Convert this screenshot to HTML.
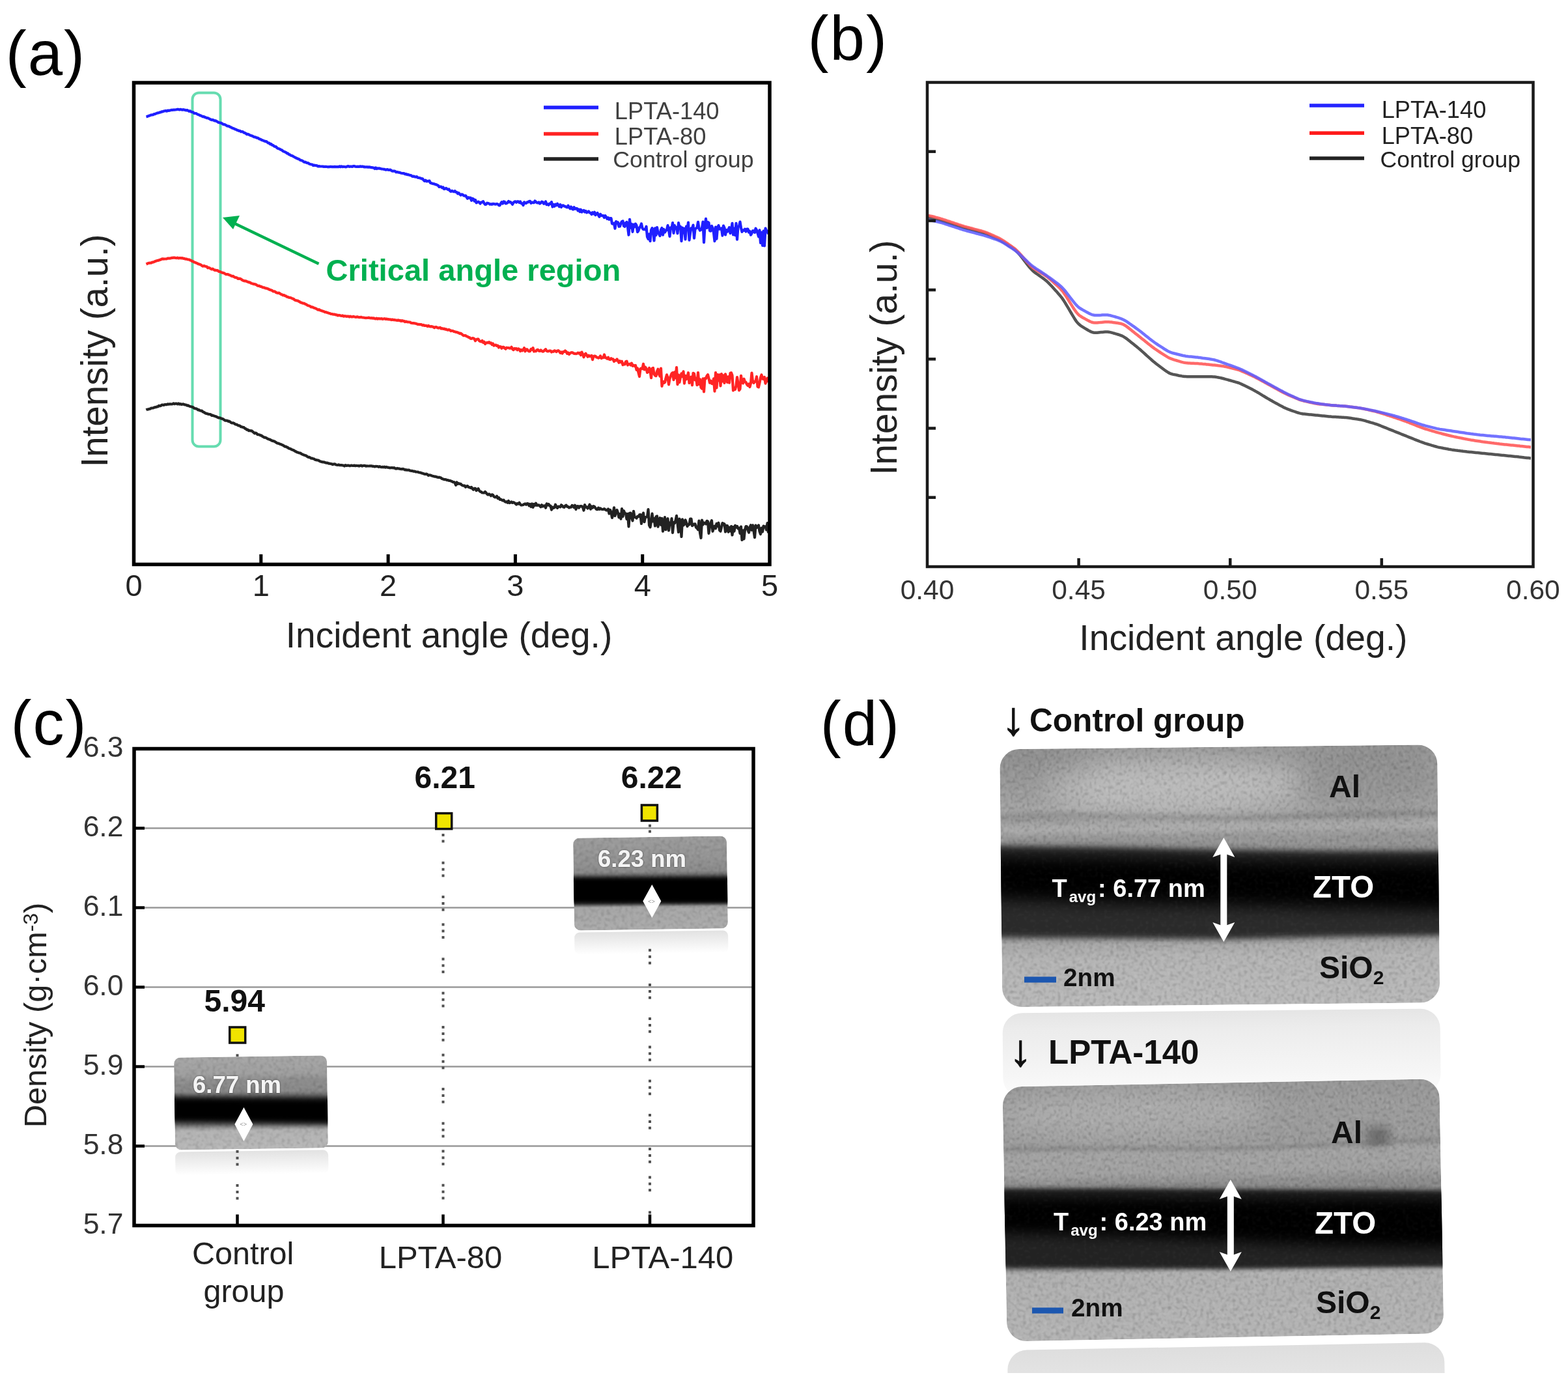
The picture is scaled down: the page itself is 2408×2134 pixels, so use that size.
<!DOCTYPE html>
<html><head><meta charset="utf-8"><title>Figure</title>
<style>
html,body{margin:0;padding:0;background:#fff;}
body{width:2408px;height:2134px;overflow:hidden;}
svg{display:block;font-family:'Liberation Sans', Arial, sans-serif;}
</style></head><body>
<svg width="2408" height="2134" viewBox="0 0 2408 2134">
<defs>
<filter id="grain" x="0" y="0" width="100%" height="100%">
  <feTurbulence type="fractalNoise" baseFrequency="0.22" numOctaves="2" seed="3"/>
  <feGaussianBlur stdDeviation="0.9"/>
  <feColorMatrix type="matrix" values="0 0 0 0 0  0 0 0 0 0  0 0 0 0 0  1.2 0 0 0 -0.55"/>
  <feComposite operator="in" in2="SourceGraphic"/>
</filter>
<filter id="grainw" x="0" y="0" width="100%" height="100%">
  <feTurbulence type="fractalNoise" baseFrequency="0.22" numOctaves="2" seed="11"/>
  <feGaussianBlur stdDeviation="0.9"/>
  <feColorMatrix type="matrix" values="0 0 0 0 1  0 0 0 0 1  0 0 0 0 1  1.2 0 0 0 -0.55"/>
  <feComposite operator="in" in2="SourceGraphic"/>
</filter>
<filter id="grainf" x="0" y="0" width="100%" height="100%">
  <feTurbulence type="fractalNoise" baseFrequency="0.28 0.2" numOctaves="2" seed="5"/>
  <feGaussianBlur stdDeviation="1.1"/>
  <feColorMatrix type="matrix" values="0 0 0 0 0  0 0 0 0 0  0 0 0 0 0  2.0 0 0 0 -0.95"/>
  <feComposite operator="in" in2="SourceGraphic"/>
</filter>
<filter id="grainfw" x="0" y="0" width="100%" height="100%">
  <feTurbulence type="fractalNoise" baseFrequency="0.28 0.2" numOctaves="2" seed="17"/>
  <feGaussianBlur stdDeviation="1.1"/>
  <feColorMatrix type="matrix" values="0 0 0 0 1  0 0 0 0 1  0 0 0 0 1  2.0 0 0 0 -0.95"/>
  <feComposite operator="in" in2="SourceGraphic"/>
</filter>
<filter id="b3" x="-20%" y="-300%" width="140%" height="700%"><feGaussianBlur stdDeviation="3"/></filter>
<filter id="b5" x="-20%" y="-300%" width="140%" height="700%"><feGaussianBlur stdDeviation="5"/></filter>
<filter id="b8" x="-20%" y="-300%" width="140%" height="700%"><feGaussianBlur stdDeviation="8"/></filter>
<filter id="b6" x="-20%" y="-300%" width="140%" height="700%"><feGaussianBlur stdDeviation="6"/></filter>
<filter id="b10" x="-20%" y="-300%" width="140%" height="700%"><feGaussianBlur stdDeviation="10"/></filter>
<filter id="b12" x="-20%" y="-300%" width="140%" height="700%"><feGaussianBlur stdDeviation="12"/></filter>
<filter id="b20" x="-100%" y="-100%" width="300%" height="300%"><feGaussianBlur stdDeviation="20"/></filter>
<filter id="tsh" x="-10%" y="-30%" width="120%" height="160%"><feDropShadow dx="0" dy="0" stdDeviation="1.2" flood-color="#000" flood-opacity="0.7"/></filter>
<linearGradient id="refl" x1="0" y1="0" x2="0" y2="1">
  <stop offset="0" stop-color="#e2e2e2"/>
  <stop offset="1" stop-color="#ffffff"/>
</linearGradient>
<linearGradient id="refl2" x1="0" y1="0" x2="0" y2="1">
  <stop offset="0" stop-color="#e5e5e5"/>
  <stop offset="0.2" stop-color="#ececec"/>
  <stop offset="0.75" stop-color="#f6f6f6"/>
  <stop offset="1" stop-color="#fcfcfc"/>
</linearGradient>
<linearGradient id="refl3" x1="0" y1="0" x2="0" y2="1">
  <stop offset="0" stop-color="#dedede"/>
  <stop offset="1" stop-color="#e9e9e9"/>
</linearGradient>
<clipPath id="cutbot"><rect x="0" y="0" width="2408" height="2108"/></clipPath>
<linearGradient id="g_ic" gradientUnits="userSpaceOnUse" x1="0" y1="1622" x2="0" y2="1764"><stop offset="0.0000" stop-color="#a6a6a6"/><stop offset="0.1831" stop-color="#a0a0a0"/><stop offset="0.2535" stop-color="#8e8e8e"/><stop offset="0.3803" stop-color="#888"/><stop offset="0.4789" stop-color="#555"/><stop offset="0.7254" stop-color="#777"/><stop offset="0.7958" stop-color="#b2b2b2"/><stop offset="1.0000" stop-color="#b8b8b8"/></linearGradient>
<clipPath id="c_ic"><rect x="268" y="1622" width="235" height="142" rx="10"/></clipPath>
<linearGradient id="g_i140" gradientUnits="userSpaceOnUse" x1="0" y1="1285" x2="0" y2="1427"><stop offset="0.0000" stop-color="#9c9c9c"/><stop offset="0.2465" stop-color="#939393"/><stop offset="0.3732" stop-color="#8a8a8a"/><stop offset="0.4577" stop-color="#444"/><stop offset="0.7042" stop-color="#444"/><stop offset="0.7535" stop-color="#a6a6a6"/><stop offset="1.0000" stop-color="#ababab"/></linearGradient>
<clipPath id="c_i140"><rect x="881" y="1285" width="236" height="142" rx="10"/></clipPath>
<linearGradient id="g_t1" gradientUnits="userSpaceOnUse" x1="0" y1="1146.75" x2="0" y2="1542.75"><stop offset="-0.0019" stop-color="#969696"/><stop offset="0.1092" stop-color="#a0a0a0"/><stop offset="0.2355" stop-color="#a4a4a4"/><stop offset="0.2759" stop-color="#999"/><stop offset="0.3163" stop-color="#a2a2a2"/><stop offset="0.3491" stop-color="#979797"/><stop offset="0.6900" stop-color="#808080"/><stop offset="0.7532" stop-color="#a6a6a6"/><stop offset="0.8163" stop-color="#b4b4b4"/><stop offset="1.0006" stop-color="#b9b9b9"/></linearGradient>
<clipPath id="c_t1"><rect x="1537.25" y="1146.75" width="672" height="396" rx="30"/></clipPath>
<linearGradient id="g_t2" gradientUnits="userSpaceOnUse" x1="0" y1="1662.4" x2="0" y2="2053.4"><stop offset="-0.0010" stop-color="#979797"/><stop offset="0.0962" stop-color="#9c9c9c"/><stop offset="0.2240" stop-color="#9b9b9b"/><stop offset="0.2701" stop-color="#a3a3a3"/><stop offset="0.3468" stop-color="#a1a1a1"/><stop offset="0.3903" stop-color="#8e8e8e"/><stop offset="0.6844" stop-color="#555"/><stop offset="0.7407" stop-color="#b0b0b0"/><stop offset="1.0015" stop-color="#b4b4b4"/></linearGradient>
<clipPath id="c_t2"><rect x="1542.9" y="1662.4" width="671" height="391" rx="30"/></clipPath>
</defs>
<rect width="2408" height="2134" fill="#fff"/>
<text x="8.7" y="115" font-size="96" text-anchor="start" font-weight="normal" fill="#000" letter-spacing="2">(a)</text>
<rect x="295.5" y="142.5" width="43" height="543" rx="10" fill="none" stroke="#66dcb0" stroke-width="4"/>
<path d="M224.5 179.2L226.0 178.9L227.5 178.3L229.0 177.6L230.5 177.2L232.0 176.5L233.5 176.3L235.0 176.2L236.5 175.1L238.0 175.1L239.5 174.4L241.0 173.8L242.5 173.3L244.0 173.1L245.5 172.4L247.0 172.3L248.5 171.3L250.0 171.3L251.5 170.5L253.0 170.4L254.5 170.0L256.0 170.7L257.5 169.6L259.0 169.9L260.5 169.6L262.0 169.3L263.5 168.8L265.0 168.8L266.5 168.7L268.0 168.6L269.5 168.5L271.0 168.2L272.5 167.9L274.0 167.9L275.5 168.5L277.0 167.9L278.5 168.2L280.0 168.6L281.5 168.2L283.0 168.6L284.5 168.9L286.0 169.4L287.5 169.1L289.0 170.0L290.5 170.8L292.0 170.4L293.5 171.7L295.0 172.0L296.5 172.3L298.0 173.8L299.5 174.0L301.0 174.0L302.5 175.0L304.0 175.8L305.5 176.2L307.0 177.1L308.5 177.5L310.0 178.3L311.5 179.2L313.0 178.9L314.5 179.9L316.0 180.3L317.5 181.1L319.0 181.2L320.5 181.9L322.0 182.6L323.5 183.5L325.0 184.1L326.5 183.8L328.0 184.5L329.5 185.5L331.0 185.2L332.5 186.2L334.0 186.9L335.5 187.9L337.0 188.3L338.5 188.6L340.0 189.1L341.5 189.9L343.0 191.0L344.5 191.0L346.0 191.7L347.5 192.5L349.0 193.5L350.5 193.6L352.0 194.0L353.5 195.0L355.0 195.5L356.5 196.6L358.0 197.1L359.5 197.6L361.0 198.4L362.5 198.7L364.0 199.8L365.5 200.1L367.0 200.9L368.5 200.9L370.0 202.2L371.5 202.0L373.0 202.4L374.5 203.6L376.0 204.0L377.5 204.9L379.0 206.2L380.5 205.8L382.0 206.5L383.5 207.4L385.0 208.0L386.5 208.4L388.0 209.0L389.5 209.9L391.0 210.4L392.5 210.5L394.0 211.6L395.5 211.6L397.0 212.4L398.5 213.4L400.0 213.7L401.5 214.9L403.0 215.3L404.5 215.9L406.0 216.4L407.5 217.2L409.0 217.0L410.5 218.4L412.0 219.6L413.5 219.5L415.0 221.3L416.5 221.2L418.0 222.8L419.5 223.1L421.0 224.5L422.5 225.1L424.0 225.4L425.5 227.1L427.0 228.0L428.5 228.3L430.0 229.1L431.5 230.0L433.0 230.5L434.5 232.0L436.0 232.6L437.5 233.3L439.0 233.9L440.5 235.3L442.0 235.4L443.5 237.0L445.0 237.4L446.5 238.6L448.0 239.1L449.5 239.6L451.0 240.5L452.5 241.3L454.0 242.2L455.5 242.8L457.0 243.6L458.5 244.0L460.0 244.9L461.5 246.0L463.0 246.3L464.5 246.9L466.0 248.0L467.5 249.0L469.0 248.7L470.5 249.7L472.0 250.2L473.5 250.4L475.0 251.7L476.5 252.0L478.0 252.5L479.5 252.5L481.0 254.1L482.5 253.6L484.0 253.9L485.5 254.1L487.0 254.4L488.5 255.4L490.0 255.1L491.5 255.5L493.0 255.5L494.5 255.5L496.0 255.6L497.5 256.0L499.0 255.8L500.5 255.9L502.0 256.0L503.5 256.3L505.0 256.2L506.5 256.1L508.0 255.8L509.5 256.2L511.0 256.2L512.5 256.2L514.0 255.9L515.5 256.1L517.0 256.1L518.5 256.1L520.0 256.1L521.5 255.3L523.0 256.3L524.5 255.4L526.0 256.1L527.5 255.9L529.0 256.0L530.5 256.3L532.0 256.2L533.5 255.4L535.0 255.2L536.5 255.9L538.0 255.5L539.5 255.7L541.0 255.9L542.5 255.1L544.0 255.0L545.5 255.7L547.0 255.8L548.5 255.8L550.0 255.7L551.5 256.0L553.0 255.3L554.5 255.8L556.0 255.7L557.5 255.7L559.0 256.3L560.5 256.2L562.0 256.5L563.5 256.2L565.0 256.7L566.5 256.4L568.0 256.6L569.5 257.1L571.0 257.0L572.5 257.5L574.0 257.7L575.5 259.0L577.0 257.5L578.5 259.2L580.0 258.3L581.5 258.6L583.0 258.4L584.5 258.9L586.0 259.5L587.5 259.5L589.0 259.8L590.5 259.9L592.0 260.7L593.5 260.6L595.0 260.1L596.5 260.9L598.0 260.8L599.5 260.7L601.0 261.8L602.5 262.7L604.0 262.6L605.5 262.6L607.0 263.0L608.5 264.3L610.0 264.0L611.5 264.6L613.0 264.7L614.5 265.1L616.0 265.7L617.5 266.0L619.0 266.2L620.5 266.2L622.0 267.3L623.5 267.1L625.0 268.1L626.5 267.8L628.0 268.5L629.5 269.0L631.0 269.0L632.5 270.4L634.0 271.0L635.5 270.6L637.0 271.4L638.5 271.7L640.0 271.2L641.5 272.6L643.0 273.0L644.5 273.2L646.0 273.6L647.5 274.4L649.0 274.4L650.5 276.5L652.0 277.9L653.5 276.7L655.0 278.5L656.5 278.1L658.0 278.1L659.5 277.6L661.0 281.0L662.5 281.2L664.0 281.8L665.5 282.2L667.0 282.4L668.5 283.1L670.0 283.4L671.5 284.1L673.0 284.9L674.5 286.9L676.0 286.7L677.5 286.7L679.0 288.4L680.5 287.5L682.0 290.1L683.5 289.7L685.0 288.8L686.5 290.1L688.0 291.1L689.5 290.5L691.0 292.9L692.5 293.9L694.0 292.9L695.5 293.8L697.0 294.3L698.5 293.2L700.0 295.0L701.5 295.0L703.0 297.2L704.5 296.2L706.0 298.1L707.5 299.6L709.0 298.4L710.5 298.7L712.0 300.2L713.5 300.6L715.0 300.3L716.5 302.5L718.0 304.8L719.5 303.1L721.0 303.9L722.5 303.7L724.0 307.8L725.5 304.8L727.0 305.5L728.5 308.7L730.0 306.9L731.5 311.3L733.0 310.6L734.5 309.7L736.0 310.5L737.5 312.5L739.0 310.6L740.5 310.5L742.0 309.2L743.5 312.0L745.0 313.9L746.5 313.6L748.0 311.7L749.5 312.1L751.0 312.6L752.5 313.7L754.0 313.2L755.5 313.8L757.0 312.8L758.5 313.2L760.0 313.4L761.5 313.6L763.0 313.1L764.5 313.6L766.0 315.1L767.5 315.3L769.0 312.5L770.5 310.2L772.0 312.5L773.5 309.5L775.0 309.9L776.5 312.5L778.0 312.2L779.5 311.0L781.0 309.0L782.5 310.5L784.0 310.1L785.5 311.7L787.0 313.7L788.5 311.1L790.0 309.8L791.5 309.3L793.0 310.8L794.5 309.4L796.0 309.4L797.5 311.0L799.0 309.4L800.5 312.4L802.0 312.3L803.5 315.1L805.0 310.3L806.5 311.6L808.0 311.9L809.5 310.4L811.0 310.4L812.5 309.1L814.0 308.9L815.5 311.9L817.0 310.6L818.5 311.1L820.0 311.2L821.5 308.5L823.0 309.8L824.5 311.1L826.0 311.5L827.5 310.5L829.0 312.5L830.5 311.5L832.0 309.7L833.5 310.2L835.0 312.8L836.5 312.5L838.0 309.4L839.5 314.2L841.0 313.4L842.5 314.7L844.0 312.5L845.5 312.9L847.0 310.1L848.5 317.5L850.0 313.9L851.5 316.7L853.0 313.7L854.5 315.2L856.0 312.8L857.5 314.9L859.0 317.3L860.5 314.2L862.0 318.0L863.5 315.6L865.0 315.4L866.5 316.5L868.0 316.9L869.5 317.8L871.0 318.4L872.5 315.7L874.0 318.4L875.5 320.3L877.0 317.5L878.5 320.5L880.0 321.5L881.5 318.1L883.0 320.8L884.5 320.2L886.0 320.0L887.5 323.3L889.0 321.4L890.5 325.0L892.0 321.8L893.5 325.6L895.0 323.4L896.5 322.9L898.0 325.5L899.5 323.9L901.0 326.3L902.5 325.6L904.0 324.4L905.5 326.4L907.0 327.0L908.5 329.0L910.0 326.3L911.5 328.2L913.0 325.8L914.5 330.2L916.0 327.8L917.5 327.0L919.0 330.4L920.5 332.8L922.0 328.8L923.5 330.9L925.0 331.1L926.5 331.0L928.0 334.1L929.5 331.1L931.0 333.2L932.5 336.0L934.0 334.2L935.5 336.9L937.0 335.0L938.5 335.1L940.0 343.4L941.5 343.7L943.0 342.6L944.5 350.8L946.0 340.0L947.5 341.2L949.0 341.4L950.5 347.8L952.0 347.5L953.5 342.7L955.0 340.1L956.5 339.5L958.0 347.0L959.5 347.8L961.0 342.1L962.5 341.0L964.0 348.6L965.5 360.7L967.0 336.8L968.5 349.7L970.0 344.0L971.5 355.8L973.0 344.7L974.5 348.2L976.0 343.7L977.5 346.1L979.0 356.1L980.5 354.2L982.0 349.4L983.5 347.7L985.0 343.5L986.5 350.2L988.0 352.1L989.5 352.1L991.0 352.3L992.5 347.8L994.0 363.7L995.5 366.8L997.0 359.5L998.5 370.2L1000.0 353.1L1001.5 350.2L1003.0 353.6L1004.5 369.5L1006.0 350.4L1007.5 361.1L1009.0 349.0L1010.5 356.8L1012.0 359.1L1013.5 362.1L1015.0 352.8L1016.5 350.0L1018.0 360.7L1019.5 352.1L1021.0 356.6L1022.5 354.1L1024.0 352.8L1025.5 346.1L1027.0 352.9L1028.5 363.0L1030.0 349.3L1031.5 350.7L1033.0 342.0L1034.5 357.9L1036.0 346.1L1037.5 350.7L1039.0 349.3L1040.5 358.3L1042.0 342.2L1043.5 349.6L1045.0 348.1L1046.5 370.2L1048.0 349.7L1049.5 357.4L1051.0 350.8L1052.5 367.5L1054.0 347.7L1055.5 352.3L1057.0 341.5L1058.5 368.6L1060.0 357.7L1061.5 350.4L1063.0 350.8L1064.5 345.6L1066.0 365.7L1067.5 351.6L1069.0 350.5L1070.5 349.3L1072.0 340.9L1073.5 350.7L1075.0 353.7L1076.5 352.8L1078.0 349.8L1079.5 340.5L1081.0 372.2L1082.5 347.3L1084.0 335.9L1085.5 349.9L1087.0 341.1L1088.5 342.1L1090.0 354.2L1091.5 354.7L1093.0 346.9L1094.5 350.1L1096.0 357.3L1097.5 370.2L1099.0 348.7L1100.5 366.7L1102.0 348.9L1103.5 346.2L1105.0 351.7L1106.5 351.7L1108.0 350.4L1109.5 361.6L1111.0 346.5L1112.5 349.9L1114.0 360.5L1115.5 353.1L1117.0 355.6L1118.5 352.4L1120.0 349.1L1121.5 358.2L1123.0 353.3L1124.5 342.9L1126.0 360.3L1127.5 350.7L1129.0 361.1L1130.5 342.9L1132.0 367.7L1133.5 348.4L1135.0 347.2L1136.5 340.6L1138.0 349.9L1139.5 355.9L1141.0 353.5L1142.5 353.8L1144.0 351.7L1145.5 355.5L1147.0 351.6L1148.5 351.5L1150.0 356.7L1151.5 355.1L1153.0 360.7L1154.5 358.1L1156.0 354.3L1157.5 354.4L1159.0 356.9L1160.5 350.7L1162.0 353.3L1163.5 358.0L1165.0 363.3L1166.5 353.3L1168.0 372.9L1169.5 356.8L1171.0 376.8L1172.5 354.7L1174.0 377.4L1175.5 350.5L1177.0 354.4L1178.5 354.5L1180.0 359.3" fill="none" stroke="#1f1fff" stroke-width="4.2" stroke-linejoin="round"/>
<path d="M224.5 405.5L226.0 404.8L227.5 404.1L229.0 403.8L230.5 403.7L232.0 403.7L233.5 402.7L235.0 402.6L236.5 402.0L238.0 401.3L239.5 400.7L241.0 400.2L242.5 399.9L244.0 399.6L245.5 398.9L247.0 398.6L248.5 397.6L250.0 397.4L251.5 397.6L253.0 397.5L254.5 397.5L256.0 397.3L257.5 396.6L259.0 396.5L260.5 396.7L262.0 396.5L263.5 395.8L265.0 395.9L266.5 395.6L268.0 395.6L269.5 396.0L271.0 396.2L272.5 395.7L274.0 396.5L275.5 396.1L277.0 396.0L278.5 396.4L280.0 396.2L281.5 396.8L283.0 396.9L284.5 397.7L286.0 397.5L287.5 398.2L289.0 398.4L290.5 398.5L292.0 399.5L293.5 399.8L295.0 401.0L296.5 401.3L298.0 402.5L299.5 402.8L301.0 403.5L302.5 404.1L304.0 405.1L305.5 405.4L307.0 406.1L308.5 406.6L310.0 407.7L311.5 408.7L313.0 408.1L314.5 408.6L316.0 409.0L317.5 409.3L319.0 411.3L320.5 410.9L322.0 411.5L323.5 412.5L325.0 413.3L326.5 412.7L328.0 413.8L329.5 414.8L331.0 414.7L332.5 415.2L334.0 415.1L335.5 416.6L337.0 416.9L338.5 417.3L340.0 418.2L341.5 418.6L343.0 419.0L344.5 419.5L346.0 420.6L347.5 421.2L349.0 421.1L350.5 421.4L352.0 422.2L353.5 422.5L355.0 423.5L356.5 424.1L358.0 423.9L359.5 425.1L361.0 425.9L362.5 426.1L364.0 426.5L365.5 427.8L367.0 427.7L368.5 427.8L370.0 428.4L371.5 429.6L373.0 430.5L374.5 431.1L376.0 431.4L377.5 431.4L379.0 432.2L380.5 432.6L382.0 433.4L383.5 433.4L385.0 434.5L386.5 435.2L388.0 435.5L389.5 436.2L391.0 436.2L392.5 436.6L394.0 437.4L395.5 438.4L397.0 438.9L398.5 438.9L400.0 440.0L401.5 440.0L403.0 441.1L404.5 441.3L406.0 441.6L407.5 442.5L409.0 442.6L410.5 443.1L412.0 443.5L413.5 444.6L415.0 445.1L416.5 445.6L418.0 446.1L419.5 447.3L421.0 447.3L422.5 447.8L424.0 449.0L425.5 449.7L427.0 449.9L428.5 449.7L430.0 450.8L431.5 451.8L433.0 452.2L434.5 453.3L436.0 453.0L437.5 454.2L439.0 454.4L440.5 455.6L442.0 455.8L443.5 456.7L445.0 456.8L446.5 457.2L448.0 457.9L449.5 458.6L451.0 459.1L452.5 460.5L454.0 461.1L455.5 461.4L457.0 461.6L458.5 462.6L460.0 463.0L461.5 464.4L463.0 464.6L464.5 465.4L466.0 465.7L467.5 465.9L469.0 466.9L470.5 467.5L472.0 468.6L473.5 469.2L475.0 469.5L476.5 470.3L478.0 471.5L479.5 471.3L481.0 472.0L482.5 472.8L484.0 473.2L485.5 473.9L487.0 474.8L488.5 475.7L490.0 475.1L491.5 476.2L493.0 476.8L494.5 477.4L496.0 477.8L497.5 478.2L499.0 479.2L500.5 479.2L502.0 479.8L503.5 480.3L505.0 480.8L506.5 481.1L508.0 481.9L509.5 482.0L511.0 482.4L512.5 482.7L514.0 482.7L515.5 483.3L517.0 483.3L518.5 484.4L520.0 483.9L521.5 484.0L523.0 484.7L524.5 484.9L526.0 484.4L527.5 485.6L529.0 485.2L530.5 485.3L532.0 485.8L533.5 485.6L535.0 485.5L536.5 486.5L538.0 485.6L539.5 486.3L541.0 486.4L542.5 485.9L544.0 486.3L545.5 486.6L547.0 486.8L548.5 486.4L550.0 486.8L551.5 487.2L553.0 487.1L554.5 486.8L556.0 487.4L557.5 487.5L559.0 487.7L560.5 488.0L562.0 488.1L563.5 488.0L565.0 487.9L566.5 487.7L568.0 488.1L569.5 488.3L571.0 488.2L572.5 488.7L574.0 488.3L575.5 489.1L577.0 489.4L578.5 488.6L580.0 489.7L581.5 489.0L583.0 489.4L584.5 489.3L586.0 489.2L587.5 489.9L589.0 489.5L590.5 489.2L592.0 489.9L593.5 489.6L595.0 490.1L596.5 490.1L598.0 490.5L599.5 490.4L601.0 491.1L602.5 490.5L604.0 491.1L605.5 491.0L607.0 491.4L608.5 491.5L610.0 492.0L611.5 491.3L613.0 492.2L614.5 491.9L616.0 493.0L617.5 492.2L619.0 492.8L620.5 492.8L622.0 494.2L623.5 493.5L625.0 494.2L626.5 494.3L628.0 494.5L629.5 494.5L631.0 495.6L632.5 496.0L634.0 496.2L635.5 496.1L637.0 496.5L638.5 496.7L640.0 497.2L641.5 498.0L643.0 497.9L644.5 498.1L646.0 498.1L647.5 498.4L649.0 499.4L650.5 498.9L652.0 499.9L653.5 499.8L655.0 500.0L656.5 501.0L658.0 499.9L659.5 501.0L661.0 501.4L662.5 501.1L664.0 501.5L665.5 502.0L667.0 503.2L668.5 502.1L670.0 502.1L671.5 503.1L673.0 503.6L674.5 503.2L676.0 502.9L677.5 504.6L679.0 504.1L680.5 504.8L682.0 504.6L683.5 505.6L685.0 505.3L686.5 506.3L688.0 506.7L689.5 506.0L691.0 506.8L692.5 508.1L694.0 507.8L695.5 508.0L697.0 508.9L698.5 509.3L700.0 509.8L701.5 509.9L703.0 510.6L704.5 511.0L706.0 512.2L707.5 511.7L709.0 512.7L710.5 514.1L712.0 515.2L713.5 515.0L715.0 515.1L716.5 516.3L718.0 516.7L719.5 517.9L721.0 518.0L722.5 519.6L724.0 519.9L725.5 519.2L727.0 519.4L728.5 520.3L730.0 523.2L731.5 521.3L733.0 520.5L734.5 520.7L736.0 523.2L737.5 524.1L739.0 524.6L740.5 523.1L742.0 525.8L743.5 524.7L745.0 528.0L746.5 526.5L748.0 525.8L749.5 526.4L751.0 525.3L752.5 526.9L754.0 526.4L755.5 529.1L757.0 527.6L758.5 530.5L760.0 529.8L761.5 529.6L763.0 531.0L764.5 530.6L766.0 533.5L767.5 532.1L769.0 532.3L770.5 534.8L772.0 532.9L773.5 532.8L775.0 534.5L776.5 535.7L778.0 533.7L779.5 534.0L781.0 534.0L782.5 534.7L784.0 534.6L785.5 532.8L787.0 535.8L788.5 537.1L790.0 535.0L791.5 535.6L793.0 535.1L794.5 537.2L796.0 535.4L797.5 536.3L799.0 539.1L800.5 537.0L802.0 538.3L803.5 537.0L805.0 534.2L806.5 539.3L808.0 536.3L809.5 536.3L811.0 538.5L812.5 539.3L814.0 539.2L815.5 535.9L817.0 536.7L818.5 534.1L820.0 539.5L821.5 539.0L823.0 539.2L824.5 537.2L826.0 536.9L827.5 538.6L829.0 538.9L830.5 537.5L832.0 538.9L833.5 539.7L835.0 539.2L836.5 537.5L838.0 536.2L839.5 538.8L841.0 539.4L842.5 538.9L844.0 538.7L845.5 538.5L847.0 540.5L848.5 539.5L850.0 539.8L851.5 538.3L853.0 538.9L854.5 540.1L856.0 538.5L857.5 538.2L859.0 539.6L860.5 541.9L862.0 540.5L863.5 542.5L865.0 540.2L866.5 540.0L868.0 538.5L869.5 539.8L871.0 542.9L872.5 541.4L874.0 544.0L875.5 542.2L877.0 541.3L878.5 541.2L880.0 541.8L881.5 542.9L883.0 542.8L884.5 543.1L886.0 542.8L887.5 541.6L889.0 542.6L890.5 541.8L892.0 545.2L893.5 540.6L895.0 543.8L896.5 548.3L898.0 544.2L899.5 542.7L901.0 545.3L902.5 547.7L904.0 545.6L905.5 547.1L907.0 546.5L908.5 546.0L910.0 552.1L911.5 547.2L913.0 546.5L914.5 546.8L916.0 548.5L917.5 548.8L919.0 549.6L920.5 548.8L922.0 546.4L923.5 550.0L925.0 548.8L926.5 549.1L928.0 544.4L929.5 549.2L931.0 549.3L932.5 550.8L934.0 548.6L935.5 551.6L937.0 552.1L938.5 550.2L940.0 551.4L941.5 551.4L943.0 554.9L944.5 553.0L946.0 553.4L947.5 551.4L949.0 554.0L950.5 556.7L952.0 554.3L953.5 556.1L955.0 554.7L956.5 560.2L958.0 558.7L959.5 559.4L961.0 555.2L962.5 554.6L964.0 560.5L965.5 559.0L967.0 558.7L968.5 560.4L970.0 557.6L971.5 561.8L973.0 560.7L974.5 562.0L976.0 560.9L977.5 567.9L979.0 565.4L980.5 572.3L982.0 578.0L983.5 566.1L985.0 565.3L986.5 566.1L988.0 558.7L989.5 567.5L991.0 563.6L992.5 565.9L994.0 571.9L995.5 571.0L997.0 564.9L998.5 569.4L1000.0 580.2L1001.5 565.7L1003.0 565.0L1004.5 573.9L1006.0 576.6L1007.5 577.2L1009.0 570.0L1010.5 566.7L1012.0 574.3L1013.5 577.5L1015.0 565.6L1016.5 592.9L1018.0 585.8L1019.5 587.9L1021.0 586.9L1022.5 580.8L1024.0 575.3L1025.5 579.9L1027.0 590.3L1028.5 581.5L1030.0 577.3L1031.5 573.4L1033.0 572.3L1034.5 583.2L1036.0 571.3L1037.5 580.2L1039.0 564.0L1040.5 590.2L1042.0 575.5L1043.5 586.8L1045.0 578.9L1046.5 573.5L1048.0 578.2L1049.5 570.4L1051.0 588.6L1052.5 576.8L1054.0 582.3L1055.5 578.7L1057.0 572.2L1058.5 588.0L1060.0 580.5L1061.5 578.6L1063.0 591.3L1064.5 572.8L1066.0 573.8L1067.5 583.3L1069.0 580.8L1070.5 591.2L1072.0 572.0L1073.5 590.0L1075.0 582.2L1076.5 594.9L1078.0 596.6L1079.5 581.4L1081.0 601.4L1082.5 580.8L1084.0 581.3L1085.5 577.2L1087.0 575.1L1088.5 581.1L1090.0 587.7L1091.5 584.7L1093.0 588.9L1094.5 589.3L1096.0 581.4L1097.5 600.6L1099.0 572.0L1100.5 595.4L1102.0 575.1L1103.5 584.2L1105.0 575.3L1106.5 592.5L1108.0 574.2L1109.5 585.5L1111.0 576.3L1112.5 587.9L1114.0 574.3L1115.5 579.6L1117.0 586.9L1118.5 578.4L1120.0 587.7L1121.5 572.7L1123.0 572.3L1124.5 576.2L1126.0 599.5L1127.5 595.6L1129.0 597.7L1130.5 592.0L1132.0 579.0L1133.5 589.1L1135.0 599.3L1136.5 597.2L1138.0 576.9L1139.5 587.3L1141.0 588.4L1142.5 581.7L1144.0 586.2L1145.5 586.8L1147.0 590.2L1148.5 592.0L1150.0 589.4L1151.5 594.1L1153.0 588.2L1154.5 572.5L1156.0 585.4L1157.5 588.0L1159.0 585.8L1160.5 585.4L1162.0 578.2L1163.5 593.6L1165.0 594.4L1166.5 587.9L1168.0 579.7L1169.5 575.5L1171.0 581.6L1172.5 582.1L1174.0 578.9L1175.5 588.7L1177.0 584.8L1178.5 580.6L1180.0 587.0" fill="none" stroke="#ff2424" stroke-width="4.2" stroke-linejoin="round"/>
<path d="M224.5 629.3L226.0 628.5L227.5 628.5L229.0 627.8L230.5 627.7L232.0 626.7L233.5 626.5L235.0 626.5L236.5 625.7L238.0 625.2L239.5 625.1L241.0 624.4L242.5 624.4L244.0 622.8L245.5 623.3L247.0 622.9L248.5 621.6L250.0 621.6L251.5 622.0L253.0 621.1L254.5 621.0L256.0 621.2L257.5 620.4L259.0 620.7L260.5 620.3L262.0 620.4L263.5 620.5L265.0 620.2L266.5 619.3L268.0 620.2L269.5 619.6L271.0 619.7L272.5 620.4L274.0 619.5L275.5 620.7L277.0 620.0L278.5 620.9L280.0 620.6L281.5 620.4L283.0 621.1L284.5 621.5L286.0 621.7L287.5 622.6L289.0 622.4L290.5 623.4L292.0 624.0L293.5 624.3L295.0 624.7L296.5 625.3L298.0 626.5L299.5 627.2L301.0 627.3L302.5 627.9L304.0 629.3L305.5 629.1L307.0 630.3L308.5 630.6L310.0 630.6L311.5 632.2L313.0 632.7L314.5 633.8L316.0 634.6L317.5 635.0L319.0 635.4L320.5 635.9L322.0 636.0L323.5 636.4L325.0 637.8L326.5 637.7L328.0 638.3L329.5 638.8L331.0 639.2L332.5 639.8L334.0 640.7L335.5 641.4L337.0 641.4L338.5 641.7L340.0 642.7L341.5 642.8L343.0 643.6L344.5 644.8L346.0 645.7L347.5 645.6L349.0 645.8L350.5 646.9L352.0 646.6L353.5 647.7L355.0 649.0L356.5 649.4L358.0 649.3L359.5 649.9L361.0 651.3L362.5 651.6L364.0 652.1L365.5 653.1L367.0 653.4L368.5 653.7L370.0 655.2L371.5 655.4L373.0 656.0L374.5 656.1L376.0 657.7L377.5 658.2L379.0 659.7L380.5 659.6L382.0 661.2L383.5 660.9L385.0 661.4L386.5 661.3L388.0 662.7L389.5 663.9L391.0 665.3L392.5 664.6L394.0 665.4L395.5 667.2L397.0 667.2L398.5 667.5L400.0 668.4L401.5 668.6L403.0 670.0L404.5 670.7L406.0 671.6L407.5 671.7L409.0 672.4L410.5 673.3L412.0 674.1L413.5 674.6L415.0 674.9L416.5 675.9L418.0 676.8L419.5 676.9L421.0 677.4L422.5 678.3L424.0 679.3L425.5 680.3L427.0 680.6L428.5 681.0L430.0 681.8L431.5 682.2L433.0 683.0L434.5 683.5L436.0 684.5L437.5 685.6L439.0 685.6L440.5 686.6L442.0 687.1L443.5 688.5L445.0 688.7L446.5 689.2L448.0 690.3L449.5 690.7L451.0 691.2L452.5 692.5L454.0 692.9L455.5 693.9L457.0 694.4L458.5 695.0L460.0 695.5L461.5 695.7L463.0 697.0L464.5 697.5L466.0 698.3L467.5 698.8L469.0 699.2L470.5 699.8L472.0 701.0L473.5 701.8L475.0 701.9L476.5 702.8L478.0 703.7L479.5 703.5L481.0 704.3L482.5 704.6L484.0 705.8L485.5 706.1L487.0 706.4L488.5 706.5L490.0 707.4L491.5 708.3L493.0 708.7L494.5 709.1L496.0 709.5L497.5 709.3L499.0 710.1L500.5 710.6L502.0 710.6L503.5 710.9L505.0 711.6L506.5 711.7L508.0 712.0L509.5 712.4L511.0 713.2L512.5 712.5L514.0 712.3L515.5 713.3L517.0 713.7L518.5 714.0L520.0 713.4L521.5 714.2L523.0 714.2L524.5 714.1L526.0 714.4L527.5 714.6L529.0 715.5L530.5 714.2L532.0 715.0L533.5 714.6L535.0 714.6L536.5 715.1L538.0 715.1L539.5 714.5L541.0 714.8L542.5 715.0L544.0 714.5L545.5 715.2L547.0 714.9L548.5 715.0L550.0 715.1L551.5 715.6L553.0 715.1L554.5 714.5L556.0 715.6L557.5 715.0L559.0 714.8L560.5 714.8L562.0 715.6L563.5 715.4L565.0 715.5L566.5 715.5L568.0 715.4L569.5 715.3L571.0 715.4L572.5 715.9L574.0 715.9L575.5 716.5L577.0 715.8L578.5 716.0L580.0 716.1L581.5 716.8L583.0 716.1L584.5 716.9L586.0 717.2L587.5 716.9L589.0 717.3L590.5 716.7L592.0 717.6L593.5 716.9L595.0 717.6L596.5 717.7L598.0 718.2L599.5 718.3L601.0 718.0L602.5 718.1L604.0 718.3L605.5 718.2L607.0 719.3L608.5 719.6L610.0 718.9L611.5 719.5L613.0 719.4L614.5 720.0L616.0 720.1L617.5 720.1L619.0 719.9L620.5 720.5L622.0 721.3L623.5 721.1L625.0 721.7L626.5 721.6L628.0 721.5L629.5 722.5L631.0 722.8L632.5 722.8L634.0 723.2L635.5 723.7L637.0 723.6L638.5 724.4L640.0 724.5L641.5 724.5L643.0 725.2L644.5 725.5L646.0 725.7L647.5 726.5L649.0 726.6L650.5 727.3L652.0 727.8L653.5 727.9L655.0 727.7L656.5 728.4L658.0 729.9L659.5 729.3L661.0 729.5L662.5 730.1L664.0 730.7L665.5 731.0L667.0 731.6L668.5 731.5L670.0 732.1L671.5 732.5L673.0 733.0L674.5 732.7L676.0 733.2L677.5 733.8L679.0 735.1L680.5 735.6L682.0 736.1L683.5 736.2L685.0 736.3L686.5 737.2L688.0 737.2L689.5 737.9L691.0 737.9L692.5 738.5L694.0 739.0L695.5 740.1L697.0 740.0L698.5 741.2L700.0 744.8L701.5 740.4L703.0 743.0L704.5 742.0L706.0 742.8L707.5 742.9L709.0 744.6L710.5 745.2L712.0 745.7L713.5 745.6L715.0 747.8L716.5 746.5L718.0 746.1L719.5 748.0L721.0 748.0L722.5 749.0L724.0 747.9L725.5 750.3L727.0 751.8L728.5 749.9L730.0 749.9L731.5 753.1L733.0 752.1L734.5 750.1L736.0 753.3L737.5 754.7L739.0 755.1L740.5 756.5L742.0 756.5L743.5 756.6L745.0 755.1L746.5 756.6L748.0 758.5L749.5 759.6L751.0 758.5L752.5 759.5L754.0 761.2L755.5 759.3L757.0 759.9L758.5 762.3L760.0 763.4L761.5 763.2L763.0 761.8L764.5 765.0L766.0 764.0L767.5 766.8L769.0 766.6L770.5 767.5L772.0 768.5L773.5 767.7L775.0 769.8L776.5 770.7L778.0 770.2L779.5 771.7L781.0 769.0L782.5 772.1L784.0 771.6L785.5 770.5L787.0 771.9L788.5 771.2L790.0 771.9L791.5 772.9L793.0 774.4L794.5 772.9L796.0 773.6L797.5 771.8L799.0 774.4L800.5 775.5L802.0 775.3L803.5 775.0L805.0 773.9L806.5 773.4L808.0 774.7L809.5 773.2L811.0 773.4L812.5 776.4L814.0 774.0L815.5 778.1L817.0 773.5L818.5 778.8L820.0 774.0L821.5 775.9L823.0 772.7L824.5 775.9L826.0 775.7L827.5 775.3L829.0 776.8L830.5 778.3L832.0 775.3L833.5 777.5L835.0 776.5L836.5 776.4L838.0 779.7L839.5 773.4L841.0 775.6L842.5 774.0L844.0 776.3L845.5 776.5L847.0 782.6L848.5 778.7L850.0 779.8L851.5 779.1L853.0 774.7L854.5 778.0L856.0 779.9L857.5 777.7L859.0 777.8L860.5 778.4L862.0 775.3L863.5 776.5L865.0 778.4L866.5 778.8L868.0 776.5L869.5 775.7L871.0 777.9L872.5 777.9L874.0 779.4L875.5 778.5L877.0 778.6L878.5 776.0L880.0 776.7L881.5 779.0L883.0 775.8L884.5 781.9L886.0 777.4L887.5 777.2L889.0 779.7L890.5 777.4L892.0 777.1L893.5 777.4L895.0 778.7L896.5 783.5L898.0 775.0L899.5 778.7L901.0 778.4L902.5 780.6L904.0 778.4L905.5 774.7L907.0 781.6L908.5 777.4L910.0 779.5L911.5 777.2L913.0 777.9L914.5 780.2L916.0 781.9L917.5 782.1L919.0 779.6L920.5 781.9L922.0 780.5L923.5 781.7L925.0 782.0L926.5 781.9L928.0 781.1L929.5 782.3L931.0 783.4L932.5 783.4L934.0 781.4L935.5 788.5L937.0 782.9L938.5 786.6L940.0 795.0L941.5 788.7L943.0 779.3L944.5 792.0L946.0 785.7L947.5 783.0L949.0 787.4L950.5 794.3L952.0 789.2L953.5 796.6L955.0 781.1L956.5 792.9L958.0 784.2L959.5 788.5L961.0 788.4L962.5 797.0L964.0 788.9L965.5 808.3L967.0 787.9L968.5 787.7L970.0 794.4L971.5 799.4L973.0 784.9L974.5 793.8L976.0 794.0L977.5 795.6L979.0 792.8L980.5 793.2L982.0 790.4L983.5 790.2L985.0 803.9L986.5 791.8L988.0 787.6L989.5 801.2L991.0 794.1L992.5 793.8L994.0 793.3L995.5 782.1L997.0 806.4L998.5 809.4L1000.0 800.2L1001.5 788.7L1003.0 800.5L1004.5 796.1L1006.0 807.5L1007.5 793.1L1009.0 792.5L1010.5 808.6L1012.0 799.0L1013.5 795.2L1015.0 806.0L1016.5 795.9L1018.0 815.7L1019.5 810.5L1021.0 794.1L1022.5 813.2L1024.0 798.6L1025.5 796.3L1027.0 814.5L1028.5 802.5L1030.0 805.2L1031.5 796.0L1033.0 817.8L1034.5 802.2L1036.0 803.3L1037.5 799.0L1039.0 791.9L1040.5 803.4L1042.0 816.9L1043.5 796.7L1045.0 801.7L1046.5 824.0L1048.0 797.3L1049.5 806.5L1051.0 805.0L1052.5 798.3L1054.0 802.2L1055.5 808.0L1057.0 805.0L1058.5 805.3L1060.0 796.7L1061.5 796.6L1063.0 807.1L1064.5 805.8L1066.0 804.5L1067.5 804.3L1069.0 809.6L1070.5 810.9L1072.0 813.2L1073.5 799.6L1075.0 817.9L1076.5 826.0L1078.0 798.5L1079.5 805.5L1081.0 802.7L1082.5 802.8L1084.0 804.4L1085.5 799.8L1087.0 800.4L1088.5 818.8L1090.0 808.7L1091.5 802.8L1093.0 799.1L1094.5 815.7L1096.0 810.7L1097.5 807.6L1099.0 811.2L1100.5 804.0L1102.0 807.8L1103.5 802.7L1105.0 814.0L1106.5 815.6L1108.0 809.3L1109.5 803.1L1111.0 803.8L1112.5 804.5L1114.0 816.5L1115.5 807.1L1117.0 807.2L1118.5 816.7L1120.0 809.7L1121.5 815.3L1123.0 808.1L1124.5 821.4L1126.0 809.1L1127.5 815.6L1129.0 806.9L1130.5 809.6L1132.0 807.9L1133.5 811.3L1135.0 810.7L1136.5 818.8L1138.0 808.6L1139.5 829.0L1141.0 814.4L1142.5 827.4L1144.0 813.4L1145.5 808.2L1147.0 808.3L1148.5 813.7L1150.0 817.6L1151.5 809.4L1153.0 806.3L1154.5 813.8L1156.0 806.4L1157.5 815.0L1159.0 825.1L1160.5 806.5L1162.0 810.1L1163.5 808.5L1165.0 806.5L1166.5 815.8L1168.0 820.0L1169.5 810.5L1171.0 816.4L1172.5 807.6L1174.0 808.3L1175.5 808.3L1177.0 813.4L1178.5 803.1L1180.0 818.2" fill="none" stroke="#222" stroke-width="4.2" stroke-linejoin="round"/>
<rect x="205.5" y="127" width="976.5" height="739.5" fill="none" stroke="#000" stroke-width="5.5"/>
<line x1="400.8" y1="866" x2="400.8" y2="851" stroke="#000" stroke-width="5"/>
<line x1="596.1" y1="866" x2="596.1" y2="851" stroke="#000" stroke-width="5"/>
<line x1="791.4" y1="866" x2="791.4" y2="851" stroke="#000" stroke-width="5"/>
<line x1="986.7" y1="866" x2="986.7" y2="851" stroke="#000" stroke-width="5"/>
<text x="205.5" y="915" font-size="47" text-anchor="middle" font-weight="normal" fill="#222" >0</text>
<text x="400.8" y="915" font-size="47" text-anchor="middle" font-weight="normal" fill="#222" >1</text>
<text x="596.1" y="915" font-size="47" text-anchor="middle" font-weight="normal" fill="#222" >2</text>
<text x="791.4" y="915" font-size="47" text-anchor="middle" font-weight="normal" fill="#222" >3</text>
<text x="986.7" y="915" font-size="47" text-anchor="middle" font-weight="normal" fill="#222" >4</text>
<text x="1182.0" y="915" font-size="47" text-anchor="middle" font-weight="normal" fill="#222" >5</text>
<text x="689.5" y="994" font-size="55" text-anchor="middle" font-weight="normal" fill="#222" >Incident angle (deg.)</text>
<text x="0" y="0" font-size="56.5" text-anchor="middle" font-weight="normal" fill="#222" transform="translate(164.5,538.5) rotate(-90)">Intensity (a.u.)</text>
<line x1="835" y1="165" x2="919" y2="165" stroke="#1f1fff" stroke-width="5.5"/>
<line x1="835" y1="205.5" x2="919" y2="205.5" stroke="#ff2424" stroke-width="5.5"/>
<line x1="835" y1="244" x2="919" y2="244" stroke="#222" stroke-width="5.5"/>
<text x="943.8" y="183" font-size="36.3" text-anchor="start" font-weight="normal" fill="#404040" >LPTA-140</text>
<text x="943.8" y="222" font-size="36.3" text-anchor="start" font-weight="normal" fill="#404040" >LPTA-80</text>
<text x="941.3" y="257" font-size="35.7" text-anchor="start" font-weight="normal" fill="#404040" >Control group</text>
<line x1="489.5" y1="405" x2="356" y2="341" stroke="#00b050" stroke-width="4.5"/>
<polygon points="342,334 368,331 358,352" fill="#00b050"/>
<text x="500.5" y="431" font-size="47.1" text-anchor="start" font-weight="bold" fill="#00b050" >Critical angle region</text>
<text x="1240.6" y="92" font-size="96" text-anchor="start" font-weight="normal" fill="#000" letter-spacing="2">(b)</text>
<path d="M1425.0 333.3L1427.0 333.7L1429.0 334.2L1431.0 334.7L1433.0 335.3L1435.0 335.9L1437.0 336.5L1439.0 337.1L1441.0 337.7L1443.0 338.3L1445.0 338.9L1447.0 339.5L1449.0 340.1L1451.0 340.7L1453.0 341.3L1455.0 341.9L1457.0 342.5L1459.0 343.1L1461.0 343.7L1463.0 344.3L1465.0 344.9L1467.0 345.5L1469.0 346.1L1471.0 346.7L1473.0 347.3L1475.0 347.9L1477.0 348.5L1479.0 349.0L1481.0 349.6L1483.0 350.2L1485.0 350.7L1487.0 351.2L1489.0 351.8L1491.0 352.3L1493.0 352.8L1495.0 353.4L1497.0 353.9L1499.0 354.5L1501.0 355.0L1503.0 355.5L1505.0 356.1L1507.0 356.6L1509.0 357.2L1511.0 357.8L1513.0 358.4L1515.0 359.2L1517.0 360.0L1519.0 360.8L1521.0 361.7L1523.0 362.7L1525.0 363.6L1527.0 364.5L1529.0 365.4L1531.0 366.4L1533.0 367.3L1535.0 368.3L1537.0 369.4L1539.0 370.5L1541.0 371.7L1543.0 372.9L1545.0 374.2L1547.0 375.5L1549.0 376.8L1551.0 378.1L1553.0 379.3L1555.0 380.7L1557.0 382.1L1559.0 383.7L1561.0 385.5L1563.0 387.6L1565.0 389.9L1567.0 392.4L1569.0 394.9L1571.0 397.5L1573.0 400.1L1575.0 402.7L1577.0 405.3L1579.0 407.9L1581.0 410.3L1583.0 412.6L1585.0 414.7L1587.0 416.5L1589.0 418.1L1591.0 419.6L1593.0 421.0L1595.0 422.4L1597.0 423.8L1599.0 425.3L1601.0 426.7L1603.0 428.1L1605.0 429.7L1607.0 431.3L1609.0 433.1L1611.0 435.1L1613.0 437.2L1615.0 439.3L1617.0 441.5L1619.0 443.7L1621.0 445.9L1623.0 448.1L1625.0 450.4L1627.0 452.7L1629.0 455.1L1631.0 457.7L1633.0 460.6L1635.0 463.7L1637.0 467.0L1639.0 470.3L1641.0 473.7L1643.0 477.1L1645.0 480.5L1647.0 483.9L1649.0 487.2L1651.0 490.4L1653.0 493.3L1655.0 495.8L1657.0 497.8L1659.0 499.5L1661.0 500.9L1663.0 502.2L1665.0 503.4L1667.0 504.6L1669.0 505.8L1671.0 507.0L1673.0 508.1L1675.0 509.1L1677.0 509.9L1679.0 510.5L1681.0 510.8L1683.0 510.8L1685.0 510.7L1687.0 510.5L1689.0 510.3L1691.0 510.1L1693.0 509.9L1695.0 509.7L1697.0 509.6L1699.0 509.5L1701.0 509.5L1703.0 509.8L1705.0 510.1L1707.0 510.6L1709.0 511.2L1711.0 511.7L1713.0 512.3L1715.0 512.9L1717.0 513.5L1719.0 514.1L1721.0 514.8L1723.0 515.6L1725.0 516.6L1727.0 517.8L1729.0 519.1L1731.0 520.6L1733.0 522.2L1735.0 523.8L1737.0 525.4L1739.0 527.0L1741.0 528.6L1743.0 530.2L1745.0 531.8L1747.0 533.4L1749.0 535.1L1751.0 536.8L1753.0 538.6L1755.0 540.4L1757.0 542.2L1759.0 544.0L1761.0 545.8L1763.0 547.6L1765.0 549.4L1767.0 551.2L1769.0 553.0L1771.0 554.7L1773.0 556.3L1775.0 557.9L1777.0 559.5L1779.0 561.0L1781.0 562.5L1783.0 564.0L1785.0 565.5L1787.0 567.0L1789.0 568.5L1791.0 569.9L1793.0 571.2L1795.0 572.4L1797.0 573.3L1799.0 574.0L1801.0 574.6L1803.0 575.0L1805.0 575.4L1807.0 575.8L1809.0 576.3L1811.0 576.7L1813.0 577.0L1815.0 577.4L1817.0 577.7L1819.0 578.0L1821.0 578.1L1823.0 578.2L1825.0 578.3L1827.0 578.3L1829.0 578.3L1831.0 578.3L1833.0 578.3L1835.0 578.3L1837.0 578.3L1839.0 578.3L1841.0 578.3L1843.0 578.3L1845.0 578.3L1847.0 578.3L1849.0 578.3L1851.0 578.3L1853.0 578.3L1855.0 578.3L1857.0 578.3L1859.0 578.3L1861.0 578.3L1863.0 578.4L1865.0 578.5L1867.0 578.8L1869.0 579.1L1871.0 579.5L1873.0 579.9L1875.0 580.3L1877.0 580.8L1879.0 581.3L1881.0 581.8L1883.0 582.4L1885.0 582.9L1887.0 583.5L1889.0 584.0L1891.0 584.6L1893.0 585.2L1895.0 585.7L1897.0 586.3L1899.0 586.9L1901.0 587.5L1903.0 588.2L1905.0 589.0L1907.0 589.9L1909.0 590.9L1911.0 591.8L1913.0 592.8L1915.0 593.8L1917.0 594.8L1919.0 595.8L1921.0 596.8L1923.0 597.8L1925.0 598.9L1927.0 600.0L1929.0 601.1L1931.0 602.2L1933.0 603.4L1935.0 604.6L1937.0 605.8L1939.0 607.1L1941.0 608.3L1943.0 609.5L1945.0 610.7L1947.0 611.9L1949.0 613.0L1951.0 614.2L1953.0 615.3L1955.0 616.5L1957.0 617.6L1959.0 618.7L1961.0 619.8L1963.0 620.9L1965.0 622.0L1967.0 623.1L1969.0 624.1L1971.0 625.2L1973.0 626.1L1975.0 627.0L1977.0 627.9L1979.0 628.6L1981.0 629.3L1983.0 630.1L1985.0 630.8L1987.0 631.5L1989.0 632.2L1991.0 632.8L1993.0 633.5L1995.0 634.1L1997.0 634.6L1999.0 635.0L2001.0 635.4L2003.0 635.6L2005.0 635.8L2007.0 636.0L2009.0 636.2L2011.0 636.4L2013.0 636.6L2015.0 636.8L2017.0 637.0L2019.0 637.2L2021.0 637.4L2023.0 637.6L2025.0 637.8L2027.0 638.0L2029.0 638.2L2031.0 638.4L2033.0 638.6L2035.0 638.8L2037.0 639.0L2039.0 639.2L2041.0 639.4L2043.0 639.6L2045.0 639.8L2047.0 639.9L2049.0 640.0L2051.0 640.1L2053.0 640.2L2055.0 640.3L2057.0 640.4L2059.0 640.5L2061.0 640.7L2063.0 640.8L2065.0 640.9L2067.0 641.1L2069.0 641.3L2071.0 641.5L2073.0 641.8L2075.0 642.1L2077.0 642.4L2079.0 642.7L2081.0 643.0L2083.0 643.2L2085.0 643.6L2087.0 643.9L2089.0 644.2L2091.0 644.6L2093.0 645.1L2095.0 645.6L2097.0 646.2L2099.0 646.8L2101.0 647.4L2103.0 648.0L2105.0 648.6L2107.0 649.1L2109.0 649.7L2111.0 650.4L2113.0 651.0L2115.0 651.7L2117.0 652.4L2119.0 653.2L2121.0 654.0L2123.0 654.8L2125.0 655.6L2127.0 656.4L2129.0 657.2L2131.0 658.0L2133.0 658.8L2135.0 659.6L2137.0 660.4L2139.0 661.2L2141.0 662.0L2143.0 662.8L2145.0 663.6L2147.0 664.4L2149.0 665.2L2151.0 666.0L2153.0 666.8L2155.0 667.6L2157.0 668.4L2159.0 669.2L2161.0 670.0L2163.0 670.8L2165.0 671.6L2167.0 672.4L2169.0 673.2L2171.0 674.0L2173.0 674.8L2175.0 675.6L2177.0 676.4L2179.0 677.2L2181.0 678.0L2183.0 678.7L2185.0 679.4L2187.0 680.1L2189.0 680.8L2191.0 681.4L2193.0 682.0L2195.0 682.6L2197.0 683.2L2199.0 683.8L2201.0 684.4L2203.0 685.0L2205.0 685.5L2207.0 686.1L2209.0 686.6L2211.0 687.0L2213.0 687.4L2215.0 687.8L2217.0 688.2L2219.0 688.6L2221.0 688.9L2223.0 689.3L2225.0 689.7L2227.0 690.0L2229.0 690.4L2231.0 690.7L2233.0 691.0L2235.0 691.3L2237.0 691.5L2239.0 691.8L2241.0 692.0L2243.0 692.3L2245.0 692.5L2247.0 692.8L2249.0 693.0L2251.0 693.2L2253.0 693.5L2255.0 693.7L2257.0 693.9L2259.0 694.1L2261.0 694.3L2263.0 694.5L2265.0 694.7L2267.0 694.9L2269.0 695.1L2271.0 695.3L2273.0 695.5L2275.0 695.7L2277.0 695.9L2279.0 696.1L2281.0 696.3L2283.0 696.5L2285.0 696.7L2287.0 696.9L2289.0 697.1L2291.0 697.3L2293.0 697.5L2295.0 697.7L2297.0 697.9L2299.0 698.1L2301.0 698.3L2303.0 698.5L2305.0 698.7L2307.0 698.9L2309.0 699.1L2311.0 699.3L2313.0 699.5L2315.0 699.7L2317.0 699.9L2319.0 700.1L2321.0 700.3L2323.0 700.5L2325.0 700.7L2327.0 700.9L2329.0 701.1L2331.0 701.3L2333.0 701.6L2335.0 701.8L2337.0 702.0L2339.0 702.2L2341.0 702.5L2343.0 702.7L2345.0 702.9L2347.0 703.1L2349.0 703.3L2351.0 703.4" fill="none" stroke="#555" stroke-width="4.5"/>
<path d="M1425.0 330.9L1427.0 331.2L1429.0 331.6L1431.0 332.0L1433.0 332.5L1435.0 333.0L1437.0 333.6L1439.0 334.1L1441.0 334.6L1443.0 335.2L1445.0 335.8L1447.0 336.4L1449.0 337.1L1451.0 337.7L1453.0 338.4L1455.0 339.1L1457.0 339.7L1459.0 340.4L1461.0 341.1L1463.0 341.7L1465.0 342.4L1467.0 343.1L1469.0 343.7L1471.0 344.4L1473.0 345.1L1475.0 345.7L1477.0 346.4L1479.0 347.0L1481.0 347.6L1483.0 348.1L1485.0 348.7L1487.0 349.2L1489.0 349.7L1491.0 350.3L1493.0 350.8L1495.0 351.3L1497.0 351.9L1499.0 352.4L1501.0 352.9L1503.0 353.5L1505.0 354.0L1507.0 354.5L1509.0 355.1L1511.0 355.7L1513.0 356.3L1515.0 357.1L1517.0 357.8L1519.0 358.7L1521.0 359.6L1523.0 360.5L1525.0 361.4L1527.0 362.3L1529.0 363.2L1531.0 364.1L1533.0 365.1L1535.0 366.1L1537.0 367.1L1539.0 368.3L1541.0 369.6L1543.0 370.9L1545.0 372.3L1547.0 373.7L1549.0 375.1L1551.0 376.5L1553.0 377.8L1555.0 379.3L1557.0 380.7L1559.0 382.3L1561.0 384.1L1563.0 386.0L1565.0 388.1L1567.0 390.3L1569.0 392.6L1571.0 394.9L1573.0 397.2L1575.0 399.6L1577.0 401.9L1579.0 404.1L1581.0 406.3L1583.0 408.3L1585.0 410.1L1587.0 411.7L1589.0 413.1L1591.0 414.3L1593.0 415.6L1595.0 416.8L1597.0 418.0L1599.0 419.2L1601.0 420.4L1603.0 421.6L1605.0 422.9L1607.0 424.3L1609.0 425.8L1611.0 427.4L1613.0 429.1L1615.0 430.9L1617.0 432.7L1619.0 434.5L1621.0 436.3L1623.0 438.1L1625.0 439.9L1627.0 441.8L1629.0 443.9L1631.0 446.2L1633.0 448.7L1635.0 451.6L1637.0 454.6L1639.0 457.8L1641.0 461.0L1643.0 464.2L1645.0 467.4L1647.0 470.6L1649.0 473.7L1651.0 476.7L1653.0 479.4L1655.0 481.8L1657.0 483.7L1659.0 485.2L1661.0 486.5L1663.0 487.7L1665.0 488.8L1667.0 489.9L1669.0 491.0L1671.0 492.1L1673.0 493.1L1675.0 494.0L1677.0 494.8L1679.0 495.3L1681.0 495.5L1683.0 495.5L1685.0 495.4L1687.0 495.2L1689.0 495.1L1691.0 494.9L1693.0 494.7L1695.0 494.5L1697.0 494.3L1699.0 494.2L1701.0 494.2L1703.0 494.2L1705.0 494.4L1707.0 494.6L1709.0 494.9L1711.0 495.2L1713.0 495.5L1715.0 495.8L1717.0 496.1L1719.0 496.4L1721.0 496.8L1723.0 497.4L1725.0 498.1L1727.0 499.2L1729.0 500.4L1731.0 501.9L1733.0 503.4L1735.0 505.0L1737.0 506.6L1739.0 508.2L1741.0 509.8L1743.0 511.4L1745.0 513.0L1747.0 514.6L1749.0 516.2L1751.0 517.8L1753.0 519.4L1755.0 521.0L1757.0 522.6L1759.0 524.2L1761.0 525.8L1763.0 527.4L1765.0 529.0L1767.0 530.5L1769.0 532.1L1771.0 533.6L1773.0 535.1L1775.0 536.5L1777.0 537.8L1779.0 539.2L1781.0 540.5L1783.0 541.8L1785.0 543.1L1787.0 544.4L1789.0 545.7L1791.0 546.9L1793.0 548.1L1795.0 549.2L1797.0 550.1L1799.0 550.9L1801.0 551.6L1803.0 552.3L1805.0 552.9L1807.0 553.5L1809.0 554.1L1811.0 554.7L1813.0 555.3L1815.0 555.9L1817.0 556.4L1819.0 556.8L1821.0 557.1L1823.0 557.3L1825.0 557.5L1827.0 557.6L1829.0 557.7L1831.0 557.8L1833.0 557.8L1835.0 557.9L1837.0 558.0L1839.0 558.1L1841.0 558.3L1843.0 558.4L1845.0 558.6L1847.0 558.8L1849.0 558.9L1851.0 559.1L1853.0 559.4L1855.0 559.6L1857.0 559.8L1859.0 560.0L1861.0 560.2L1863.0 560.4L1865.0 560.6L1867.0 560.8L1869.0 561.0L1871.0 561.3L1873.0 561.5L1875.0 561.7L1877.0 562.0L1879.0 562.3L1881.0 562.7L1883.0 563.1L1885.0 563.6L1887.0 564.0L1889.0 564.5L1891.0 565.0L1893.0 565.5L1895.0 566.0L1897.0 566.5L1899.0 567.0L1901.0 567.6L1903.0 568.2L1905.0 569.0L1907.0 569.8L1909.0 570.6L1911.0 571.5L1913.0 572.4L1915.0 573.3L1917.0 574.2L1919.0 575.1L1921.0 576.0L1923.0 576.9L1925.0 577.9L1927.0 578.8L1929.0 579.9L1931.0 580.9L1933.0 582.0L1935.0 583.1L1937.0 584.2L1939.0 585.3L1941.0 586.4L1943.0 587.5L1945.0 588.6L1947.0 589.7L1949.0 590.8L1951.0 591.9L1953.0 593.0L1955.0 594.1L1957.0 595.2L1959.0 596.3L1961.0 597.4L1963.0 598.5L1965.0 599.6L1967.0 600.7L1969.0 601.7L1971.0 602.8L1973.0 603.8L1975.0 604.8L1977.0 605.7L1979.0 606.6L1981.0 607.5L1983.0 608.3L1985.0 609.2L1987.0 610.0L1989.0 610.8L1991.0 611.7L1993.0 612.5L1995.0 613.3L1997.0 614.0L1999.0 614.6L2001.0 615.2L2003.0 615.7L2005.0 616.1L2007.0 616.6L2009.0 617.1L2011.0 617.5L2013.0 618.0L2015.0 618.4L2017.0 618.9L2019.0 619.3L2021.0 619.6L2023.0 619.9L2025.0 620.2L2027.0 620.4L2029.0 620.6L2031.0 620.8L2033.0 621.0L2035.0 621.2L2037.0 621.4L2039.0 621.6L2041.0 621.8L2043.0 622.0L2045.0 622.2L2047.0 622.4L2049.0 622.5L2051.0 622.6L2053.0 622.8L2055.0 622.9L2057.0 623.1L2059.0 623.2L2061.0 623.3L2063.0 623.5L2065.0 623.6L2067.0 623.8L2069.0 624.0L2071.0 624.2L2073.0 624.5L2075.0 624.7L2077.0 625.0L2079.0 625.3L2081.0 625.5L2083.0 625.8L2085.0 626.1L2087.0 626.3L2089.0 626.6L2091.0 627.0L2093.0 627.3L2095.0 627.8L2097.0 628.2L2099.0 628.6L2101.0 629.1L2103.0 629.6L2105.0 630.0L2107.0 630.5L2109.0 631.0L2111.0 631.4L2113.0 631.9L2115.0 632.5L2117.0 633.0L2119.0 633.6L2121.0 634.3L2123.0 634.9L2125.0 635.5L2127.0 636.2L2129.0 636.8L2131.0 637.5L2133.0 638.1L2135.0 638.8L2137.0 639.4L2139.0 640.1L2141.0 640.8L2143.0 641.4L2145.0 642.1L2147.0 642.8L2149.0 643.5L2151.0 644.2L2153.0 644.9L2155.0 645.6L2157.0 646.3L2159.0 647.0L2161.0 647.8L2163.0 648.5L2165.0 649.3L2167.0 650.1L2169.0 650.9L2171.0 651.7L2173.0 652.5L2175.0 653.3L2177.0 654.1L2179.0 654.9L2181.0 655.7L2183.0 656.4L2185.0 657.1L2187.0 657.8L2189.0 658.5L2191.0 659.1L2193.0 659.7L2195.0 660.3L2197.0 660.9L2199.0 661.5L2201.0 662.1L2203.0 662.7L2205.0 663.3L2207.0 663.8L2209.0 664.4L2211.0 664.9L2213.0 665.4L2215.0 666.0L2217.0 666.5L2219.0 667.0L2221.0 667.5L2223.0 668.0L2225.0 668.5L2227.0 669.0L2229.0 669.5L2231.0 669.9L2233.0 670.4L2235.0 670.8L2237.0 671.2L2239.0 671.6L2241.0 672.0L2243.0 672.4L2245.0 672.8L2247.0 673.2L2249.0 673.6L2251.0 674.0L2253.0 674.4L2255.0 674.8L2257.0 675.1L2259.0 675.5L2261.0 675.8L2263.0 676.1L2265.0 676.4L2267.0 676.7L2269.0 677.0L2271.0 677.3L2273.0 677.6L2275.0 677.9L2277.0 678.2L2279.0 678.4L2281.0 678.7L2283.0 679.0L2285.0 679.3L2287.0 679.5L2289.0 679.8L2291.0 680.1L2293.0 680.3L2295.0 680.6L2297.0 680.8L2299.0 681.1L2301.0 681.3L2303.0 681.6L2305.0 681.8L2307.0 682.0L2309.0 682.2L2311.0 682.4L2313.0 682.6L2315.0 682.8L2317.0 683.0L2319.0 683.2L2321.0 683.4L2323.0 683.6L2325.0 683.8L2327.0 684.0L2329.0 684.2L2331.0 684.4L2333.0 684.6L2335.0 684.9L2337.0 685.1L2339.0 685.3L2341.0 685.5L2343.0 685.7L2345.0 685.9L2347.0 686.1L2349.0 686.3L2351.0 686.4" fill="none" stroke="#ff5a5a" stroke-width="4.5" stroke-opacity="0.9"/>
<path d="M1425.0 337.9L1427.0 338.1L1429.0 338.4L1431.0 338.7L1433.0 339.1L1435.0 339.5L1437.0 339.9L1439.0 340.3L1441.0 340.7L1443.0 341.2L1445.0 341.7L1447.0 342.3L1449.0 342.9L1451.0 343.6L1453.0 344.3L1455.0 344.9L1457.0 345.6L1459.0 346.3L1461.0 346.9L1463.0 347.6L1465.0 348.2L1467.0 348.9L1469.0 349.6L1471.0 350.2L1473.0 350.9L1475.0 351.5L1477.0 352.2L1479.0 352.8L1481.0 353.4L1483.0 353.9L1485.0 354.5L1487.0 355.0L1489.0 355.5L1491.0 356.1L1493.0 356.6L1495.0 357.1L1497.0 357.7L1499.0 358.2L1501.0 358.7L1503.0 359.3L1505.0 359.8L1507.0 360.3L1509.0 360.9L1511.0 361.4L1513.0 362.0L1515.0 362.6L1517.0 363.3L1519.0 364.0L1521.0 364.7L1523.0 365.4L1525.0 366.1L1527.0 366.8L1529.0 367.5L1531.0 368.2L1533.0 369.0L1535.0 369.8L1537.0 370.7L1539.0 371.8L1541.0 372.9L1543.0 374.1L1545.0 375.4L1547.0 376.7L1549.0 378.0L1551.0 379.3L1553.0 380.5L1555.0 381.9L1557.0 383.2L1559.0 384.6L1561.0 386.2L1563.0 387.8L1565.0 389.6L1567.0 391.4L1569.0 393.3L1571.0 395.2L1573.0 397.1L1575.0 399.0L1577.0 400.9L1579.0 402.8L1581.0 404.6L1583.0 406.4L1585.0 408.0L1587.0 409.5L1589.0 410.9L1591.0 412.3L1593.0 413.6L1595.0 414.9L1597.0 416.2L1599.0 417.5L1601.0 418.8L1603.0 420.1L1605.0 421.5L1607.0 422.8L1609.0 424.2L1611.0 425.7L1613.0 427.1L1615.0 428.6L1617.0 430.1L1619.0 431.6L1621.0 433.1L1623.0 434.6L1625.0 436.1L1627.0 437.7L1629.0 439.4L1631.0 441.3L1633.0 443.4L1635.0 445.8L1637.0 448.2L1639.0 450.8L1641.0 453.4L1643.0 456.0L1645.0 458.6L1647.0 461.1L1649.0 463.7L1651.0 466.1L1653.0 468.4L1655.0 470.4L1657.0 472.1L1659.0 473.5L1661.0 474.7L1663.0 475.9L1665.0 477.0L1667.0 478.1L1669.0 479.2L1671.0 480.3L1673.0 481.4L1675.0 482.3L1677.0 483.1L1679.0 483.6L1681.0 483.9L1683.0 484.1L1685.0 484.0L1687.0 484.0L1689.0 483.9L1691.0 483.8L1693.0 483.6L1695.0 483.6L1697.0 483.5L1699.0 483.5L1701.0 483.6L1703.0 483.9L1705.0 484.3L1707.0 484.8L1709.0 485.4L1711.0 485.9L1713.0 486.5L1715.0 487.1L1717.0 487.7L1719.0 488.3L1721.0 489.0L1723.0 489.8L1725.0 490.7L1727.0 491.7L1729.0 492.9L1731.0 494.2L1733.0 495.6L1735.0 497.0L1737.0 498.4L1739.0 499.8L1741.0 501.2L1743.0 502.6L1745.0 504.1L1747.0 505.5L1749.0 507.0L1751.0 508.5L1753.0 510.1L1755.0 511.7L1757.0 513.3L1759.0 514.9L1761.0 516.5L1763.0 518.1L1765.0 519.7L1767.0 521.2L1769.0 522.8L1771.0 524.3L1773.0 525.8L1775.0 527.2L1777.0 528.5L1779.0 529.8L1781.0 531.1L1783.0 532.4L1785.0 533.7L1787.0 535.0L1789.0 536.3L1791.0 537.5L1793.0 538.7L1795.0 539.7L1797.0 540.6L1799.0 541.3L1801.0 542.0L1803.0 542.5L1805.0 543.0L1807.0 543.5L1809.0 544.0L1811.0 544.5L1813.0 545.0L1815.0 545.5L1817.0 546.0L1819.0 546.3L1821.0 546.7L1823.0 546.9L1825.0 547.2L1827.0 547.4L1829.0 547.6L1831.0 547.8L1833.0 548.0L1835.0 548.2L1837.0 548.4L1839.0 548.6L1841.0 548.9L1843.0 549.1L1845.0 549.4L1847.0 549.7L1849.0 549.9L1851.0 550.2L1853.0 550.5L1855.0 550.8L1857.0 551.1L1859.0 551.4L1861.0 551.8L1863.0 552.1L1865.0 552.5L1867.0 553.1L1869.0 553.6L1871.0 554.3L1873.0 555.0L1875.0 555.7L1877.0 556.5L1879.0 557.2L1881.0 557.9L1883.0 558.6L1885.0 559.3L1887.0 560.0L1889.0 560.7L1891.0 561.4L1893.0 562.1L1895.0 562.8L1897.0 563.5L1899.0 564.3L1901.0 565.0L1903.0 565.8L1905.0 566.7L1907.0 567.6L1909.0 568.6L1911.0 569.5L1913.0 570.5L1915.0 571.5L1917.0 572.5L1919.0 573.5L1921.0 574.5L1923.0 575.5L1925.0 576.5L1927.0 577.6L1929.0 578.6L1931.0 579.7L1933.0 580.8L1935.0 581.9L1937.0 583.0L1939.0 584.1L1941.0 585.2L1943.0 586.4L1945.0 587.5L1947.0 588.6L1949.0 589.7L1951.0 590.8L1953.0 591.9L1955.0 593.0L1957.0 594.1L1959.0 595.2L1961.0 596.3L1963.0 597.4L1965.0 598.5L1967.0 599.6L1969.0 600.6L1971.0 601.7L1973.0 602.7L1975.0 603.7L1977.0 604.7L1979.0 605.7L1981.0 606.6L1983.0 607.5L1985.0 608.4L1987.0 609.3L1989.0 610.2L1991.0 611.1L1993.0 612.0L1995.0 612.8L1997.0 613.5L1999.0 614.1L2001.0 614.7L2003.0 615.2L2005.0 615.6L2007.0 616.1L2009.0 616.5L2011.0 617.0L2013.0 617.4L2015.0 617.8L2017.0 618.2L2019.0 618.6L2021.0 619.0L2023.0 619.3L2025.0 619.6L2027.0 619.9L2029.0 620.2L2031.0 620.4L2033.0 620.7L2035.0 621.0L2037.0 621.2L2039.0 621.5L2041.0 621.7L2043.0 622.0L2045.0 622.2L2047.0 622.3L2049.0 622.5L2051.0 622.6L2053.0 622.8L2055.0 622.9L2057.0 623.1L2059.0 623.2L2061.0 623.3L2063.0 623.5L2065.0 623.6L2067.0 623.8L2069.0 624.0L2071.0 624.2L2073.0 624.5L2075.0 624.7L2077.0 625.0L2079.0 625.3L2081.0 625.5L2083.0 625.8L2085.0 626.1L2087.0 626.3L2089.0 626.6L2091.0 626.9L2093.0 627.3L2095.0 627.6L2097.0 628.0L2099.0 628.4L2101.0 628.8L2103.0 629.2L2105.0 629.6L2107.0 630.0L2109.0 630.4L2111.0 630.8L2113.0 631.3L2115.0 631.7L2117.0 632.2L2119.0 632.6L2121.0 633.1L2123.0 633.6L2125.0 634.1L2127.0 634.6L2129.0 635.1L2131.0 635.6L2133.0 636.1L2135.0 636.6L2137.0 637.1L2139.0 637.7L2141.0 638.2L2143.0 638.8L2145.0 639.4L2147.0 640.0L2149.0 640.6L2151.0 641.2L2153.0 641.8L2155.0 642.4L2157.0 643.1L2159.0 643.7L2161.0 644.3L2163.0 645.0L2165.0 645.6L2167.0 646.3L2169.0 647.0L2171.0 647.7L2173.0 648.4L2175.0 649.1L2177.0 649.8L2179.0 650.5L2181.0 651.2L2183.0 651.8L2185.0 652.5L2187.0 653.0L2189.0 653.6L2191.0 654.1L2193.0 654.6L2195.0 655.1L2197.0 655.6L2199.0 656.1L2201.0 656.6L2203.0 657.1L2205.0 657.6L2207.0 658.1L2209.0 658.5L2211.0 658.9L2213.0 659.2L2215.0 659.5L2217.0 659.8L2219.0 660.1L2221.0 660.4L2223.0 660.7L2225.0 661.0L2227.0 661.3L2229.0 661.6L2231.0 661.9L2233.0 662.2L2235.0 662.5L2237.0 662.8L2239.0 663.1L2241.0 663.4L2243.0 663.7L2245.0 664.0L2247.0 664.3L2249.0 664.6L2251.0 664.9L2253.0 665.2L2255.0 665.4L2257.0 665.7L2259.0 666.0L2261.0 666.2L2263.0 666.5L2265.0 666.7L2267.0 666.9L2269.0 667.2L2271.0 667.4L2273.0 667.7L2275.0 667.9L2277.0 668.1L2279.0 668.3L2281.0 668.5L2283.0 668.7L2285.0 668.9L2287.0 669.0L2289.0 669.2L2291.0 669.4L2293.0 669.5L2295.0 669.7L2297.0 669.8L2299.0 670.0L2301.0 670.2L2303.0 670.4L2305.0 670.5L2307.0 670.7L2309.0 670.9L2311.0 671.1L2313.0 671.4L2315.0 671.6L2317.0 671.8L2319.0 672.0L2321.0 672.2L2323.0 672.4L2325.0 672.6L2327.0 672.8L2329.0 673.0L2331.0 673.2L2333.0 673.4L2335.0 673.7L2337.0 673.9L2339.0 674.1L2341.0 674.3L2343.0 674.5L2345.0 674.7L2347.0 674.9L2349.0 675.1L2351.0 675.2" fill="none" stroke="#5a5aff" stroke-width="4.5" stroke-opacity="0.85"/>
<rect x="1424" y="126.5" width="930.5" height="743.5" fill="none" stroke="#1a1a1a" stroke-width="4.5"/>
<line x1="1424" y1="232.7" x2="1437" y2="232.7" stroke="#1a1a1a" stroke-width="4.5"/>
<line x1="1424" y1="338.9" x2="1437" y2="338.9" stroke="#1a1a1a" stroke-width="4.5"/>
<line x1="1424" y1="445.1" x2="1437" y2="445.1" stroke="#1a1a1a" stroke-width="4.5"/>
<line x1="1424" y1="551.3" x2="1437" y2="551.3" stroke="#1a1a1a" stroke-width="4.5"/>
<line x1="1424" y1="657.5" x2="1437" y2="657.5" stroke="#1a1a1a" stroke-width="4.5"/>
<line x1="1424" y1="763.7" x2="1437" y2="763.7" stroke="#1a1a1a" stroke-width="4.5"/>
<line x1="1656.6" y1="870" x2="1656.6" y2="857" stroke="#1a1a1a" stroke-width="4.5"/>
<line x1="1889.2" y1="870" x2="1889.2" y2="857" stroke="#1a1a1a" stroke-width="4.5"/>
<line x1="2121.8" y1="870" x2="2121.8" y2="857" stroke="#1a1a1a" stroke-width="4.5"/>
<text x="1424.0" y="920" font-size="42.5" text-anchor="middle" font-weight="normal" fill="#333" >0.40</text>
<text x="1656.6" y="920" font-size="42.5" text-anchor="middle" font-weight="normal" fill="#333" >0.45</text>
<text x="1889.2" y="920" font-size="42.5" text-anchor="middle" font-weight="normal" fill="#333" >0.50</text>
<text x="2121.8" y="920" font-size="42.5" text-anchor="middle" font-weight="normal" fill="#333" >0.55</text>
<text x="2354.4" y="920" font-size="42.5" text-anchor="middle" font-weight="normal" fill="#333" >0.60</text>
<text x="1909.4" y="997.5" font-size="55.3" text-anchor="middle" font-weight="normal" fill="#222" >Incident angle (deg.)</text>
<text x="0" y="0" font-size="57" text-anchor="middle" font-weight="normal" fill="#222" transform="translate(1376.5,549) rotate(-90)">Intensity (a.u.)</text>
<line x1="2011" y1="162" x2="2095" y2="162" stroke="#2424ff" stroke-width="5.5"/>
<line x1="2011" y1="204.3" x2="2095" y2="204.3" stroke="#ff1a1a" stroke-width="5.5"/>
<line x1="2011" y1="243" x2="2095" y2="243" stroke="#222" stroke-width="5.5"/>
<text x="2121.7" y="180.5" font-size="36.3" text-anchor="start" font-weight="normal" fill="#222" >LPTA-140</text>
<text x="2121.7" y="221" font-size="36.3" text-anchor="start" font-weight="normal" fill="#222" >LPTA-80</text>
<text x="2119.5" y="257" font-size="35.6" text-anchor="start" font-weight="normal" fill="#222" >Control group</text>
<text x="16.5" y="1143" font-size="96" text-anchor="start" font-weight="normal" fill="#000" letter-spacing="2">(c)</text>
<line x1="206" y1="1271.5" x2="1157" y2="1271.5" stroke="#999" stroke-width="2.5"/>
<line x1="206" y1="1393.5" x2="1157" y2="1393.5" stroke="#999" stroke-width="2.5"/>
<line x1="206" y1="1515.5" x2="1157" y2="1515.5" stroke="#999" stroke-width="2.5"/>
<line x1="206" y1="1637.5" x2="1157" y2="1637.5" stroke="#999" stroke-width="2.5"/>
<line x1="206" y1="1759.5" x2="1157" y2="1759.5" stroke="#999" stroke-width="2.5"/>
<g transform="rotate(-0.8 385.5 1693.0)"><rect x="268" y="1767" width="235" height="36" rx="8" fill="url(#refl)"/></g>
<g transform="rotate(-0.8 999.0 1356.0)"><rect x="881" y="1430" width="236" height="34" rx="8" fill="url(#refl)"/></g>
<rect x="362.5" y="1618.3" width="4" height="4" fill="#505050"/><rect x="362.5" y="1765.9" width="4" height="4" fill="#505050"/><rect x="362.5" y="1775.9" width="4" height="4" fill="#505050"/><rect x="362.5" y="1785.6000000000001" width="4" height="4" fill="#505050"/><rect x="362.5" y="1818" width="4" height="4" fill="#505050"/><rect x="362.5" y="1828" width="4" height="4" fill="#505050"/><rect x="362.5" y="1837.7" width="4" height="4" fill="#505050"/>
<rect x="678.5" y="1280" width="4" height="4" fill="#505050"/><rect x="678.5" y="1289.5" width="4" height="4" fill="#505050"/><rect x="678.5" y="1322.7" width="4" height="4" fill="#505050"/><rect x="678.5" y="1332.7" width="4" height="4" fill="#505050"/><rect x="678.5" y="1342.4" width="4" height="4" fill="#505050"/><rect x="678.5" y="1375" width="4" height="4" fill="#505050"/><rect x="678.5" y="1385" width="4" height="4" fill="#505050"/><rect x="678.5" y="1394.7" width="4" height="4" fill="#505050"/><rect x="678.5" y="1417.4" width="4" height="4" fill="#505050"/><rect x="678.5" y="1427.4" width="4" height="4" fill="#505050"/><rect x="678.5" y="1437.1000000000001" width="4" height="4" fill="#505050"/><rect x="678.5" y="1470.4" width="4" height="4" fill="#505050"/><rect x="678.5" y="1480.4" width="4" height="4" fill="#505050"/><rect x="678.5" y="1490.1000000000001" width="4" height="4" fill="#505050"/><rect x="678.5" y="1522.7" width="4" height="4" fill="#505050"/><rect x="678.5" y="1532.7" width="4" height="4" fill="#505050"/><rect x="678.5" y="1542.4" width="4" height="4" fill="#505050"/><rect x="678.5" y="1575" width="4" height="4" fill="#505050"/><rect x="678.5" y="1585" width="4" height="4" fill="#505050"/><rect x="678.5" y="1594.7" width="4" height="4" fill="#505050"/><rect x="678.5" y="1617.7" width="4" height="4" fill="#505050"/><rect x="678.5" y="1627.7" width="4" height="4" fill="#505050"/><rect x="678.5" y="1637.4" width="4" height="4" fill="#505050"/><rect x="678.5" y="1670" width="4" height="4" fill="#505050"/><rect x="678.5" y="1680" width="4" height="4" fill="#505050"/><rect x="678.5" y="1689.7" width="4" height="4" fill="#505050"/><rect x="678.5" y="1722.7" width="4" height="4" fill="#505050"/><rect x="678.5" y="1732.7" width="4" height="4" fill="#505050"/><rect x="678.5" y="1742.4" width="4" height="4" fill="#505050"/><rect x="678.5" y="1765.4" width="4" height="4" fill="#505050"/><rect x="678.5" y="1775.4" width="4" height="4" fill="#505050"/><rect x="678.5" y="1785.1000000000001" width="4" height="4" fill="#505050"/><rect x="678.5" y="1817.7" width="4" height="4" fill="#505050"/><rect x="678.5" y="1827.7" width="4" height="4" fill="#505050"/><rect x="678.5" y="1837.4" width="4" height="4" fill="#505050"/>
<rect x="996" y="1265.7" width="4" height="4" fill="#505050"/><rect x="996" y="1274.5" width="4" height="4" fill="#505050"/><rect x="996" y="1859.3" width="4" height="4" fill="#505050"/><rect x="996" y="1456.8" width="4" height="4" fill="#505050"/><rect x="996" y="1466.8" width="4" height="4" fill="#505050"/><rect x="996" y="1476.5" width="4" height="4" fill="#505050"/><rect x="996" y="1510" width="4" height="4" fill="#505050"/><rect x="996" y="1520" width="4" height="4" fill="#505050"/><rect x="996" y="1529.7" width="4" height="4" fill="#505050"/><rect x="996" y="1562" width="4" height="4" fill="#505050"/><rect x="996" y="1572" width="4" height="4" fill="#505050"/><rect x="996" y="1581.7" width="4" height="4" fill="#505050"/><rect x="996" y="1605.5" width="4" height="4" fill="#505050"/><rect x="996" y="1615.5" width="4" height="4" fill="#505050"/><rect x="996" y="1625.2" width="4" height="4" fill="#505050"/><rect x="996" y="1657.6" width="4" height="4" fill="#505050"/><rect x="996" y="1667.6" width="4" height="4" fill="#505050"/><rect x="996" y="1677.3" width="4" height="4" fill="#505050"/><rect x="996" y="1710" width="4" height="4" fill="#505050"/><rect x="996" y="1720" width="4" height="4" fill="#505050"/><rect x="996" y="1729.7" width="4" height="4" fill="#505050"/><rect x="996" y="1762" width="4" height="4" fill="#505050"/><rect x="996" y="1772" width="4" height="4" fill="#505050"/><rect x="996" y="1781.7" width="4" height="4" fill="#505050"/><rect x="996" y="1805.5" width="4" height="4" fill="#505050"/><rect x="996" y="1815.5" width="4" height="4" fill="#505050"/><rect x="996" y="1825.2" width="4" height="4" fill="#505050"/>
<g transform="rotate(-0.8 385.5 1693.0)"><g clip-path="url(#c_ic)"><rect x="268" y="1622" width="235" height="142" fill="url(#g_ic)"/><rect x="268" y="1622" width="235" height="142" filter="url(#grain)" opacity="0.35"/><rect x="268" y="1622" width="235" height="142" filter="url(#grainw)" opacity="0.2"/><path d="M255.1 1682.2 L515.1 1687.8 L514.5 1727.8 L254.6 1721.2 Z" fill="#060606" filter="url(#b5)"/></g></g><polygon points="374.4,1700 388.4,1726.0 374.4,1752 360.4,1726.0" fill="#fff"/><text x="368.4" y="1729.0" font-size="9" fill="#999">&lt;&gt;</text><text x="296" y="1677.5" font-size="36.5" font-weight="bold" fill="#f4f4f4" filter="url(#tsh)">6.77 nm</text>
<g transform="rotate(-0.8 999.0 1356.0)"><g clip-path="url(#c_i140)"><rect x="881" y="1285" width="236" height="142" fill="url(#g_i140)"/><rect x="881" y="1285" width="236" height="142" filter="url(#grain)" opacity="0.35"/><rect x="881" y="1285" width="236" height="142" filter="url(#grainw)" opacity="0.2"/><path d="M870.1 1345.2 L1130.1 1348.8 L1129.6 1388.8 L869.6 1385.2 Z" fill="#060606" filter="url(#b3)"/></g></g><polygon points="1001.3,1358 1015.3,1383.5 1001.3,1409 987.3,1383.5" fill="#fff"/><text x="995.3" y="1386.5" font-size="9" fill="#999">&lt;&gt;</text><text x="918" y="1330.5" font-size="36.5" font-weight="bold" fill="#f4f4f4" filter="url(#tsh)">6.23 nm</text>
<rect x="206" y="1149.5" width="951" height="732" fill="none" stroke="#000" stroke-width="5.5"/>
<line x1="206" y1="1271.5" x2="222" y2="1271.5" stroke="#000" stroke-width="4.5"/>
<line x1="206" y1="1393.5" x2="222" y2="1393.5" stroke="#000" stroke-width="4.5"/>
<line x1="206" y1="1515.5" x2="222" y2="1515.5" stroke="#000" stroke-width="4.5"/>
<line x1="206" y1="1637.5" x2="222" y2="1637.5" stroke="#000" stroke-width="4.5"/>
<line x1="206" y1="1759.5" x2="222" y2="1759.5" stroke="#000" stroke-width="4.5"/>
<line x1="364.5" y1="1881" x2="364.5" y2="1864.5" stroke="#000" stroke-width="4.5"/>
<line x1="680.5" y1="1881" x2="680.5" y2="1864.5" stroke="#000" stroke-width="4.5"/>
<line x1="998" y1="1881" x2="998" y2="1864.5" stroke="#000" stroke-width="4.5"/>
<text x="189.5" y="1162.0" font-size="44.5" text-anchor="end" font-weight="normal" fill="#333" >6.3</text>
<text x="189.5" y="1284.0" font-size="44.5" text-anchor="end" font-weight="normal" fill="#333" >6.2</text>
<text x="189.5" y="1406.0" font-size="44.5" text-anchor="end" font-weight="normal" fill="#333" >6.1</text>
<text x="189.5" y="1528.0" font-size="44.5" text-anchor="end" font-weight="normal" fill="#333" >6.0</text>
<text x="189.5" y="1650.0" font-size="44.5" text-anchor="end" font-weight="normal" fill="#333" >5.9</text>
<text x="189.5" y="1772.0" font-size="44.5" text-anchor="end" font-weight="normal" fill="#333" >5.8</text>
<text x="189.5" y="1894.0" font-size="44.5" text-anchor="end" font-weight="normal" fill="#333" >5.7</text>
<text x="0" y="0" font-size="48.8" text-anchor="middle" font-weight="normal" fill="#222" transform="translate(70.5,1558.5) rotate(-90)">Density (g·cm<tspan font-size="32" dy="-13">-3</tspan><tspan dy="13">)</tspan></text>
<rect x="352.7" y="1577" width="24" height="24" fill="#f0e400" stroke="#111" stroke-width="3.5"/>
<rect x="669.7" y="1248.6" width="24" height="24" fill="#f0e400" stroke="#111" stroke-width="3.5"/>
<rect x="985.4" y="1236" width="24" height="24" fill="#f0e400" stroke="#111" stroke-width="3.5"/>
<text x="360.2" y="1553" font-size="48" text-anchor="middle" font-weight="bold" fill="#111" >5.94</text>
<text x="683.2" y="1210" font-size="48" text-anchor="middle" font-weight="bold" fill="#111" >6.21</text>
<text x="1000.5" y="1209.5" font-size="48" text-anchor="middle" font-weight="bold" fill="#111" >6.22</text>
<text x="373.2" y="1941" font-size="48.5" text-anchor="middle" font-weight="normal" fill="#222" >Control</text>
<text x="374.5" y="1999" font-size="48.5" text-anchor="middle" font-weight="normal" fill="#222" >group</text>
<text x="676.5" y="1946.7" font-size="49" text-anchor="middle" font-weight="normal" fill="#222" >LPTA-80</text>
<text x="1017.8" y="1946.7" font-size="49" text-anchor="middle" font-weight="normal" fill="#222" >LPTA-140</text>
<text x="1259.7" y="1143.7" font-size="96" text-anchor="start" font-weight="normal" fill="#000" letter-spacing="2">(d)</text>
<g clip-path="url(#cutbot)"><g transform="rotate(-0.6 1873.25 1344.75)"><rect x="1537.25" y="1552" width="672" height="130" rx="30" fill="url(#refl2)"/></g></g><g transform="rotate(-0.6 1873.25 1344.75)"><g clip-path="url(#c_t1)"><rect x="1537.25" y="1146.75" width="672" height="396" fill="url(#g_t1)"/><ellipse cx="1800" cy="1205" rx="200" ry="42" fill="#fff" opacity="0.28" filter="url(#b20)"/><ellipse cx="1590" cy="1180" rx="90" ry="40" fill="#000" opacity="0.06" filter="url(#b20)"/><ellipse cx="2110" cy="1200" rx="110" ry="50" fill="#000" opacity="0.08" filter="url(#b20)"/><path d="M1537 1250 Q1650 1246 1760 1252 T1960 1256 T2210 1250" stroke="#5a5a5a" stroke-width="4" fill="none" opacity="0.35" filter="url(#b3)"/><path d="M1537 1270 L2210 1266" stroke="#fff" stroke-width="16" fill="none" opacity="0.10" filter="url(#b5)"/><rect x="1537.25" y="1146.75" width="672" height="253.25" filter="url(#grainf)" opacity="0.30"/><rect x="1537.25" y="1146.75" width="672" height="253.25" filter="url(#grainfw)" opacity="0.22"/><rect x="1537.25" y="1400" width="672" height="142.75" filter="url(#grain)" opacity="0.42"/><rect x="1537.25" y="1400" width="672" height="142.75" filter="url(#grainw)" opacity="0.32"/><path d="M1520.5 1295.3 L1700.5 1299.2 L1880.4 1305.1 L2050.4 1308.9 L2230.4 1310.7 L2229.0 1439.7 L2049.0 1439.8 L1879.0 1442.1 L1699.0 1438.2 L1519.0 1435.3 Z" fill="#2a2a2a" filter="url(#b5)"/><path d="M1520.3 1310.3 L1700.3 1314.2 L1880.3 1320.1 L2050.2 1323.9 L2230.2 1325.7 L2229.4 1401.7 L2049.5 1395.8 L1879.5 1390.1 L1699.6 1384.2 L1519.7 1376.3 Z" fill="#030303" filter="url(#b12)"/><rect x="1537.25" y="1295.303350762464" width="672" height="146.76200150111663" filter="url(#grainw)" opacity="0.10"/></g></g>
<g clip-path="url(#cutbot)"><g transform="rotate(-1.06 1878.4 1857.9)"><rect x="1542.9" y="2067" width="671" height="80" rx="30" fill="url(#refl3)"/></g></g><g transform="rotate(-1.06 1878.4 1857.9)"><g clip-path="url(#c_t2)"><rect x="1542.9" y="1662.4" width="671" height="391" fill="url(#g_t2)"/><ellipse cx="1740" cy="1705" rx="210" ry="40" fill="#fff" opacity="0.16" filter="url(#b20)"/><path d="M1537 1760 Q1650 1757 1760 1761 T1980 1762 T2215 1756" stroke="#555" stroke-width="4" fill="none" opacity="0.5" filter="url(#b3)"/><rect x="1542.9" y="1662.4" width="671" height="267.5999999999999" filter="url(#grainf)" opacity="0.30"/><rect x="1542.9" y="1662.4" width="671" height="267.5999999999999" filter="url(#grainfw)" opacity="0.22"/><rect x="1542.9" y="1930" width="671" height="123.40000000000009" filter="url(#grain)" opacity="0.42"/><rect x="1542.9" y="1930" width="671" height="123.40000000000009" filter="url(#grainw)" opacity="0.32"/><path d="M1520.7 1818.4 L1700.6 1821.7 L1880.6 1826.0 L2050.5 1830.2 L2230.5 1834.5 L2228.3 1951.5 L2048.3 1949.2 L1878.3 1948.0 L1698.4 1943.7 L1518.4 1939.4 Z" fill="#242424" filter="url(#b3)"/><path d="M1520.4 1831.4 L1700.4 1834.7 L1880.3 1839.0 L2050.3 1843.2 L2230.3 1847.5 L2228.9 1921.5 L2049.0 1915.2 L1879.1 1905.0 L1699.3 1893.7 L1519.4 1885.4 Z" fill="#050505" filter="url(#b10)"/><rect x="1542.9" y="1818.3754327413526" width="671" height="133.11406315925433" filter="url(#grainw)" opacity="0.10"/><ellipse cx="2118" cy="1748" rx="20" ry="14" fill="#222" opacity="0.4" filter="url(#b8)"/></g></g>
<text x="1538.6" y="1128.3" font-size="72" text-anchor="start" font-weight="normal" fill="#111" stroke="#111" stroke-width="1.3">↓</text>
<text x="1581" y="1123.4" font-size="49.6" text-anchor="start" font-weight="bold" fill="#111" >Control group</text>
<text x="1550" y="1636" font-size="68" text-anchor="start" font-weight="normal" fill="#111" stroke="#111" stroke-width="1.3">↓</text>
<text x="1610" y="1632.5" font-size="51" text-anchor="start" font-weight="bold" fill="#111" >LPTA-140</text>
<text x="2041" y="1224" font-size="48" text-anchor="start" font-weight="bold" fill="#111" >Al</text><text x="2016" y="1378.3" font-size="47.5" text-anchor="start" font-weight="bold" fill="#fff" >ZTO</text><text x="1615.5" y="1377" font-size="38" font-weight="bold" fill="#fff">T<tspan font-size="24" dx="3" dy="8">avg</tspan><tspan dx="3" dy="-8">: 6.77 nm</tspan></text><text x="2026" y="1501.6" font-size="48" font-weight="bold" fill="#111">SiO<tspan font-size="30" dy="9">2</tspan></text><line x1="1573" y1="1504" x2="1622" y2="1504" stroke="#1c57b0" stroke-width="9"/><text x="1633" y="1513.5" font-size="38.7" text-anchor="start" font-weight="bold" fill="#111" >2nm</text><line x1="1879.3" y1="1306" x2="1879.3" y2="1426" stroke="#fff" stroke-width="10"/><polygon points="1879.3,1286 1896.3,1316 1879.3,1310 1862.3,1316" fill="#fff"/><polygon points="1879.3,1446 1896.3,1416 1879.3,1422 1862.3,1416" fill="#fff"/>
<text x="2044" y="1755" font-size="48" text-anchor="start" font-weight="bold" fill="#111" >Al</text><text x="2019" y="1894" font-size="47.5" text-anchor="start" font-weight="bold" fill="#fff" >ZTO</text><text x="1618" y="1889" font-size="38" font-weight="bold" fill="#fff">T<tspan font-size="24" dx="3" dy="8">avg</tspan><tspan dx="3" dy="-8">: 6.23 nm</tspan></text><text x="2021" y="2015.5" font-size="48" font-weight="bold" fill="#111">SiO<tspan font-size="30" dy="9">2</tspan></text><line x1="1585" y1="2012" x2="1633" y2="2012" stroke="#1c57b0" stroke-width="9"/><text x="1645" y="2020.8" font-size="38.7" text-anchor="start" font-weight="bold" fill="#111" >2nm</text><line x1="1889.8" y1="1831" x2="1889.8" y2="1932" stroke="#fff" stroke-width="10"/><polygon points="1889.8,1811 1906.8,1841 1889.8,1835 1872.8,1841" fill="#fff"/><polygon points="1889.8,1952 1906.8,1922 1889.8,1928 1872.8,1922" fill="#fff"/>
</svg>
</body></html>
